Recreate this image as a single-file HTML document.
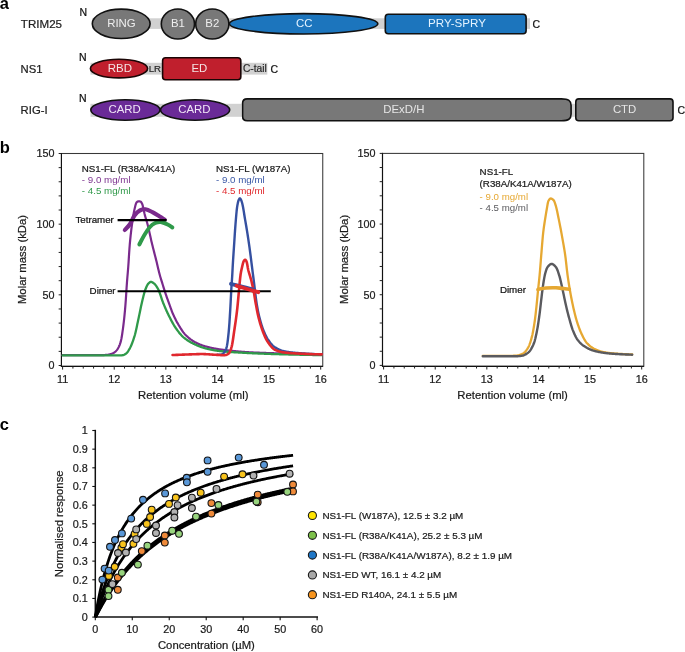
<!DOCTYPE html>
<html><head><meta charset="utf-8"><style>
html,body{margin:0;padding:0;background:#fff;width:685px;height:652px;overflow:hidden}
svg{display:block;font-family:"Liberation Sans", sans-serif}
svg{will-change:transform}
</style></head><body>
<svg width="685" height="652" viewBox="0 0 685 652">
<text x="-0.30" y="8.60" font-size="16.5" fill="#000" text-anchor="start" font-weight="bold" >a</text>
<text x="-0.30" y="153.20" font-size="16.5" fill="#000" text-anchor="start" font-weight="bold" >b</text>
<text x="-0.30" y="430.20" font-size="16.5" fill="#000" text-anchor="start" font-weight="bold" >c</text>
<text x="20.80" y="27.60" font-size="11.6" fill="#222" text-anchor="start" font-weight="normal" stroke="#222" stroke-width="0.22" >TRIM25</text>
<text x="79.60" y="16.20" font-size="10.5" fill="#111" text-anchor="start" font-weight="normal" stroke="#111" stroke-width="0.22" >N</text>
<rect x="92" y="18.3" width="438" height="10.6" fill="#d1d1d1"/>
<ellipse cx="121.2" cy="23.8" rx="28.9" ry="14.7" fill="#787878" stroke="#111" stroke-width="1.6"/>
<ellipse cx="177.9" cy="24" rx="16.6" ry="15" fill="#787878" stroke="#111" stroke-width="1.6"/>
<ellipse cx="212.3" cy="24" rx="16.6" ry="15" fill="#787878" stroke="#111" stroke-width="1.6"/>
<ellipse cx="303.6" cy="23.8" rx="74.2" ry="10.2" fill="#1c75bd" stroke="#111" stroke-width="1.6"/>
<rect x="385.3" y="14.3" width="140.8" height="19.4" rx="3" fill="#1c75bd" stroke="#111" stroke-width="1.6"/>
<text x="121.40" y="26.60" font-size="11.4" fill="#eee" text-anchor="middle" font-weight="normal" >RING</text>
<text x="177.90" y="26.60" font-size="11.4" fill="#eee" text-anchor="middle" font-weight="normal" >B1</text>
<text x="212.30" y="26.60" font-size="11.4" fill="#eee" text-anchor="middle" font-weight="normal" >B2</text>
<text x="304.30" y="26.60" font-size="11.4" fill="#e4f3ff" text-anchor="middle" font-weight="normal" >CC</text>
<text x="457.00" y="26.60" font-size="11.6" fill="#e4f3ff" text-anchor="middle" font-weight="normal" >PRY-SPRY</text>
<text x="532.60" y="28.20" font-size="10.5" fill="#111" text-anchor="start" font-weight="normal" stroke="#111" stroke-width="0.22" >C</text>
<text x="20.60" y="72.70" font-size="11.3" fill="#222" text-anchor="start" font-weight="normal" stroke="#222" stroke-width="0.22" >NS1</text>
<text x="78.90" y="60.60" font-size="10.5" fill="#111" text-anchor="start" font-weight="normal" stroke="#111" stroke-width="0.22" >N</text>
<rect x="90.5" y="62.8" width="176.8" height="11.8" fill="#d1d1d1"/>
<ellipse cx="119" cy="68.6" rx="28.6" ry="9.3" fill="#c01f2d" stroke="#1a0505" stroke-width="1.6"/>
<rect x="162.6" y="57.8" width="78.2" height="22" rx="3" fill="#c01f2d" stroke="#1a0505" stroke-width="1.6"/>
<text x="119.80" y="71.90" font-size="11.5" fill="#f4e4e4" text-anchor="middle" font-weight="normal" >RBD</text>
<text x="199.30" y="71.90" font-size="11.4" fill="#f4e4e4" text-anchor="middle" font-weight="normal" >ED</text>
<text x="148.70" y="72.20" font-size="9.6" fill="#2a2a2a" text-anchor="start" font-weight="normal" stroke="#2a2a2a" stroke-width="0.22" >LR</text>
<text x="242.90" y="72.40" font-size="10.2" fill="#2a2a2a" text-anchor="start" font-weight="normal" stroke="#2a2a2a" stroke-width="0.22" >C-tail</text>
<text x="270.40" y="72.70" font-size="10.5" fill="#111" text-anchor="start" font-weight="normal" stroke="#111" stroke-width="0.22" >C</text>
<text x="20.60" y="114.30" font-size="11.3" fill="#222" text-anchor="start" font-weight="normal" stroke="#222" stroke-width="0.22" >RIG-I</text>
<text x="79.10" y="101.50" font-size="10.5" fill="#111" text-anchor="start" font-weight="normal" stroke="#111" stroke-width="0.22" >N</text>
<rect x="90.5" y="103.8" width="151" height="13" fill="#d1d1d1"/>
<rect x="570" y="103.8" width="6" height="13" fill="#d1d1d1"/>
<ellipse cx="125.4" cy="110" rx="34.6" ry="10.2" fill="#6a2a97" stroke="#111" stroke-width="1.6"/>
<ellipse cx="195.1" cy="110" rx="34.6" ry="10.2" fill="#6a2a97" stroke="#111" stroke-width="1.6"/>
<path d="M247.2,98.9 H561.5 C568.5,98.9 571.1,100.5 571.1,105.5 V114.1 C571.1,119.1 568.5,120.7 561.5,120.7 H247.2 C243.8,120.7 242.6,119.3 242.6,116.3 V103.3 C242.6,100.3 243.8,98.9 247.2,98.9 Z" fill="#787878" stroke="#111" stroke-width="1.6"/>
<rect x="575.8" y="98.9" width="97.2" height="21.8" rx="3" fill="#787878" stroke="#111" stroke-width="1.6"/>
<text x="124.70" y="112.90" font-size="11.4" fill="#f1e6f7" text-anchor="middle" font-weight="normal" >CARD</text>
<text x="194.40" y="112.90" font-size="11.4" fill="#f1e6f7" text-anchor="middle" font-weight="normal" >CARD</text>
<text x="403.80" y="112.80" font-size="11.4" fill="#e6e6e6" text-anchor="middle" font-weight="normal" >DExD/H</text>
<text x="624.60" y="112.80" font-size="11.4" fill="#e6e6e6" text-anchor="middle" font-weight="normal" >CTD</text>
<text x="677.60" y="114.30" font-size="10.5" fill="#111" text-anchor="start" font-weight="normal" stroke="#111" stroke-width="0.22" >C</text>
<rect x="61.45" y="153.50" width="261.30" height="212.90" fill="none" stroke="#383838" stroke-width="1.05"/>
<line x1="61.45" y1="153.00" x2="61.45" y2="366.90" stroke="#111" stroke-width="1.15"/>
<line x1="60.95" y1="366.40" x2="322.75" y2="366.40" stroke="#111" stroke-width="1.15"/>
<line x1="58.65" y1="365.50" x2="61.45" y2="365.50" stroke="#222" stroke-width="1"/>
<line x1="58.65" y1="351.37" x2="61.45" y2="351.37" stroke="#222" stroke-width="1"/>
<line x1="58.65" y1="337.23" x2="61.45" y2="337.23" stroke="#222" stroke-width="1"/>
<line x1="58.65" y1="323.10" x2="61.45" y2="323.10" stroke="#222" stroke-width="1"/>
<line x1="58.65" y1="308.97" x2="61.45" y2="308.97" stroke="#222" stroke-width="1"/>
<line x1="58.65" y1="294.83" x2="61.45" y2="294.83" stroke="#222" stroke-width="1"/>
<line x1="58.65" y1="280.70" x2="61.45" y2="280.70" stroke="#222" stroke-width="1"/>
<line x1="58.65" y1="266.57" x2="61.45" y2="266.57" stroke="#222" stroke-width="1"/>
<line x1="58.65" y1="252.43" x2="61.45" y2="252.43" stroke="#222" stroke-width="1"/>
<line x1="58.65" y1="238.30" x2="61.45" y2="238.30" stroke="#222" stroke-width="1"/>
<line x1="58.65" y1="224.17" x2="61.45" y2="224.17" stroke="#222" stroke-width="1"/>
<line x1="58.65" y1="210.03" x2="61.45" y2="210.03" stroke="#222" stroke-width="1"/>
<line x1="58.65" y1="195.90" x2="61.45" y2="195.90" stroke="#222" stroke-width="1"/>
<line x1="58.65" y1="181.77" x2="61.45" y2="181.77" stroke="#222" stroke-width="1"/>
<line x1="58.65" y1="167.63" x2="61.45" y2="167.63" stroke="#222" stroke-width="1"/>
<line x1="58.65" y1="153.50" x2="61.45" y2="153.50" stroke="#222" stroke-width="1"/>
<text x="54.55" y="369.30" font-size="10.8" fill="#1a1a1a" text-anchor="end" font-weight="normal" stroke="#1a1a1a" stroke-width="0.22" >0</text>
<text x="54.55" y="298.63" font-size="10.8" fill="#1a1a1a" text-anchor="end" font-weight="normal" stroke="#1a1a1a" stroke-width="0.22" >50</text>
<text x="54.55" y="227.97" font-size="10.8" fill="#1a1a1a" text-anchor="end" font-weight="normal" stroke="#1a1a1a" stroke-width="0.22" >100</text>
<text x="54.55" y="157.30" font-size="10.8" fill="#1a1a1a" text-anchor="end" font-weight="normal" stroke="#1a1a1a" stroke-width="0.22" >150</text>
<line x1="62.60" y1="366.40" x2="62.60" y2="369.60" stroke="#222" stroke-width="1"/>
<line x1="72.92" y1="366.40" x2="72.92" y2="368.60" stroke="#222" stroke-width="1"/>
<line x1="83.25" y1="366.40" x2="83.25" y2="368.60" stroke="#222" stroke-width="1"/>
<line x1="93.57" y1="366.40" x2="93.57" y2="368.60" stroke="#222" stroke-width="1"/>
<line x1="103.90" y1="366.40" x2="103.90" y2="368.60" stroke="#222" stroke-width="1"/>
<line x1="114.22" y1="366.40" x2="114.22" y2="369.60" stroke="#222" stroke-width="1"/>
<line x1="124.54" y1="366.40" x2="124.54" y2="368.60" stroke="#222" stroke-width="1"/>
<line x1="134.87" y1="366.40" x2="134.87" y2="368.60" stroke="#222" stroke-width="1"/>
<line x1="145.19" y1="366.40" x2="145.19" y2="368.60" stroke="#222" stroke-width="1"/>
<line x1="155.52" y1="366.40" x2="155.52" y2="368.60" stroke="#222" stroke-width="1"/>
<line x1="165.84" y1="366.40" x2="165.84" y2="369.60" stroke="#222" stroke-width="1"/>
<line x1="176.16" y1="366.40" x2="176.16" y2="368.60" stroke="#222" stroke-width="1"/>
<line x1="186.49" y1="366.40" x2="186.49" y2="368.60" stroke="#222" stroke-width="1"/>
<line x1="196.81" y1="366.40" x2="196.81" y2="368.60" stroke="#222" stroke-width="1"/>
<line x1="207.14" y1="366.40" x2="207.14" y2="368.60" stroke="#222" stroke-width="1"/>
<line x1="217.46" y1="366.40" x2="217.46" y2="369.60" stroke="#222" stroke-width="1"/>
<line x1="227.78" y1="366.40" x2="227.78" y2="368.60" stroke="#222" stroke-width="1"/>
<line x1="238.11" y1="366.40" x2="238.11" y2="368.60" stroke="#222" stroke-width="1"/>
<line x1="248.43" y1="366.40" x2="248.43" y2="368.60" stroke="#222" stroke-width="1"/>
<line x1="258.76" y1="366.40" x2="258.76" y2="368.60" stroke="#222" stroke-width="1"/>
<line x1="269.08" y1="366.40" x2="269.08" y2="369.60" stroke="#222" stroke-width="1"/>
<line x1="279.40" y1="366.40" x2="279.40" y2="368.60" stroke="#222" stroke-width="1"/>
<line x1="289.73" y1="366.40" x2="289.73" y2="368.60" stroke="#222" stroke-width="1"/>
<line x1="300.05" y1="366.40" x2="300.05" y2="368.60" stroke="#222" stroke-width="1"/>
<line x1="310.38" y1="366.40" x2="310.38" y2="368.60" stroke="#222" stroke-width="1"/>
<line x1="320.70" y1="366.40" x2="320.70" y2="369.60" stroke="#222" stroke-width="1"/>
<text x="62.60" y="382.70" font-size="10.8" fill="#1a1a1a" text-anchor="middle" font-weight="normal" stroke="#1a1a1a" stroke-width="0.22" >11</text>
<text x="114.22" y="382.70" font-size="10.8" fill="#1a1a1a" text-anchor="middle" font-weight="normal" stroke="#1a1a1a" stroke-width="0.22" >12</text>
<text x="165.84" y="382.70" font-size="10.8" fill="#1a1a1a" text-anchor="middle" font-weight="normal" stroke="#1a1a1a" stroke-width="0.22" >13</text>
<text x="217.46" y="382.70" font-size="10.8" fill="#1a1a1a" text-anchor="middle" font-weight="normal" stroke="#1a1a1a" stroke-width="0.22" >14</text>
<text x="269.08" y="382.70" font-size="10.8" fill="#1a1a1a" text-anchor="middle" font-weight="normal" stroke="#1a1a1a" stroke-width="0.22" >15</text>
<text x="320.70" y="382.70" font-size="10.8" fill="#1a1a1a" text-anchor="middle" font-weight="normal" stroke="#1a1a1a" stroke-width="0.22" >16</text>
<text x="193.30" y="398.80" font-size="11.3" fill="#1a1a1a" text-anchor="middle" font-weight="normal" stroke="#1a1a1a" stroke-width="0.22" >Retention volume (ml)</text>
<text x="0" y="0" font-size="11.3" fill="#1a1a1a" stroke="#1a1a1a" stroke-width="0.22" text-anchor="middle" transform="translate(25.95,259.50) rotate(-90)">Molar mass (kDa)</text>
<rect x="382.50" y="153.40" width="261.30" height="212.90" fill="none" stroke="#383838" stroke-width="1.05"/>
<line x1="382.50" y1="152.90" x2="382.50" y2="366.80" stroke="#111" stroke-width="1.15"/>
<line x1="382.00" y1="366.30" x2="643.80" y2="366.30" stroke="#111" stroke-width="1.15"/>
<line x1="379.70" y1="365.40" x2="382.50" y2="365.40" stroke="#222" stroke-width="1"/>
<line x1="379.70" y1="351.27" x2="382.50" y2="351.27" stroke="#222" stroke-width="1"/>
<line x1="379.70" y1="337.13" x2="382.50" y2="337.13" stroke="#222" stroke-width="1"/>
<line x1="379.70" y1="323.00" x2="382.50" y2="323.00" stroke="#222" stroke-width="1"/>
<line x1="379.70" y1="308.87" x2="382.50" y2="308.87" stroke="#222" stroke-width="1"/>
<line x1="379.70" y1="294.73" x2="382.50" y2="294.73" stroke="#222" stroke-width="1"/>
<line x1="379.70" y1="280.60" x2="382.50" y2="280.60" stroke="#222" stroke-width="1"/>
<line x1="379.70" y1="266.47" x2="382.50" y2="266.47" stroke="#222" stroke-width="1"/>
<line x1="379.70" y1="252.33" x2="382.50" y2="252.33" stroke="#222" stroke-width="1"/>
<line x1="379.70" y1="238.20" x2="382.50" y2="238.20" stroke="#222" stroke-width="1"/>
<line x1="379.70" y1="224.07" x2="382.50" y2="224.07" stroke="#222" stroke-width="1"/>
<line x1="379.70" y1="209.93" x2="382.50" y2="209.93" stroke="#222" stroke-width="1"/>
<line x1="379.70" y1="195.80" x2="382.50" y2="195.80" stroke="#222" stroke-width="1"/>
<line x1="379.70" y1="181.67" x2="382.50" y2="181.67" stroke="#222" stroke-width="1"/>
<line x1="379.70" y1="167.53" x2="382.50" y2="167.53" stroke="#222" stroke-width="1"/>
<line x1="379.70" y1="153.40" x2="382.50" y2="153.40" stroke="#222" stroke-width="1"/>
<text x="375.60" y="369.20" font-size="10.8" fill="#1a1a1a" text-anchor="end" font-weight="normal" stroke="#1a1a1a" stroke-width="0.22" >0</text>
<text x="375.60" y="298.53" font-size="10.8" fill="#1a1a1a" text-anchor="end" font-weight="normal" stroke="#1a1a1a" stroke-width="0.22" >50</text>
<text x="375.60" y="227.87" font-size="10.8" fill="#1a1a1a" text-anchor="end" font-weight="normal" stroke="#1a1a1a" stroke-width="0.22" >100</text>
<text x="375.60" y="157.20" font-size="10.8" fill="#1a1a1a" text-anchor="end" font-weight="normal" stroke="#1a1a1a" stroke-width="0.22" >150</text>
<line x1="383.60" y1="366.30" x2="383.60" y2="369.50" stroke="#222" stroke-width="1"/>
<line x1="393.92" y1="366.30" x2="393.92" y2="368.50" stroke="#222" stroke-width="1"/>
<line x1="404.25" y1="366.30" x2="404.25" y2="368.50" stroke="#222" stroke-width="1"/>
<line x1="414.57" y1="366.30" x2="414.57" y2="368.50" stroke="#222" stroke-width="1"/>
<line x1="424.90" y1="366.30" x2="424.90" y2="368.50" stroke="#222" stroke-width="1"/>
<line x1="435.22" y1="366.30" x2="435.22" y2="369.50" stroke="#222" stroke-width="1"/>
<line x1="445.54" y1="366.30" x2="445.54" y2="368.50" stroke="#222" stroke-width="1"/>
<line x1="455.87" y1="366.30" x2="455.87" y2="368.50" stroke="#222" stroke-width="1"/>
<line x1="466.19" y1="366.30" x2="466.19" y2="368.50" stroke="#222" stroke-width="1"/>
<line x1="476.52" y1="366.30" x2="476.52" y2="368.50" stroke="#222" stroke-width="1"/>
<line x1="486.84" y1="366.30" x2="486.84" y2="369.50" stroke="#222" stroke-width="1"/>
<line x1="497.16" y1="366.30" x2="497.16" y2="368.50" stroke="#222" stroke-width="1"/>
<line x1="507.49" y1="366.30" x2="507.49" y2="368.50" stroke="#222" stroke-width="1"/>
<line x1="517.81" y1="366.30" x2="517.81" y2="368.50" stroke="#222" stroke-width="1"/>
<line x1="528.14" y1="366.30" x2="528.14" y2="368.50" stroke="#222" stroke-width="1"/>
<line x1="538.46" y1="366.30" x2="538.46" y2="369.50" stroke="#222" stroke-width="1"/>
<line x1="548.78" y1="366.30" x2="548.78" y2="368.50" stroke="#222" stroke-width="1"/>
<line x1="559.11" y1="366.30" x2="559.11" y2="368.50" stroke="#222" stroke-width="1"/>
<line x1="569.43" y1="366.30" x2="569.43" y2="368.50" stroke="#222" stroke-width="1"/>
<line x1="579.76" y1="366.30" x2="579.76" y2="368.50" stroke="#222" stroke-width="1"/>
<line x1="590.08" y1="366.30" x2="590.08" y2="369.50" stroke="#222" stroke-width="1"/>
<line x1="600.40" y1="366.30" x2="600.40" y2="368.50" stroke="#222" stroke-width="1"/>
<line x1="610.73" y1="366.30" x2="610.73" y2="368.50" stroke="#222" stroke-width="1"/>
<line x1="621.05" y1="366.30" x2="621.05" y2="368.50" stroke="#222" stroke-width="1"/>
<line x1="631.38" y1="366.30" x2="631.38" y2="368.50" stroke="#222" stroke-width="1"/>
<line x1="641.70" y1="366.30" x2="641.70" y2="369.50" stroke="#222" stroke-width="1"/>
<text x="383.60" y="382.70" font-size="10.8" fill="#1a1a1a" text-anchor="middle" font-weight="normal" stroke="#1a1a1a" stroke-width="0.22" >11</text>
<text x="435.22" y="382.70" font-size="10.8" fill="#1a1a1a" text-anchor="middle" font-weight="normal" stroke="#1a1a1a" stroke-width="0.22" >12</text>
<text x="486.84" y="382.70" font-size="10.8" fill="#1a1a1a" text-anchor="middle" font-weight="normal" stroke="#1a1a1a" stroke-width="0.22" >13</text>
<text x="538.46" y="382.70" font-size="10.8" fill="#1a1a1a" text-anchor="middle" font-weight="normal" stroke="#1a1a1a" stroke-width="0.22" >14</text>
<text x="590.08" y="382.70" font-size="10.8" fill="#1a1a1a" text-anchor="middle" font-weight="normal" stroke="#1a1a1a" stroke-width="0.22" >15</text>
<text x="641.70" y="382.70" font-size="10.8" fill="#1a1a1a" text-anchor="middle" font-weight="normal" stroke="#1a1a1a" stroke-width="0.22" >16</text>
<text x="512.60" y="398.80" font-size="11.3" fill="#1a1a1a" text-anchor="middle" font-weight="normal" stroke="#1a1a1a" stroke-width="0.22" >Retention volume (ml)</text>
<text x="0" y="0" font-size="11.3" fill="#1a1a1a" stroke="#1a1a1a" stroke-width="0.22" text-anchor="middle" transform="translate(348.30,259.40) rotate(-90)">Molar mass (kDa)</text>
<path d="M62.60,355.19 L63.00,355.19 L63.40,355.19 L63.80,355.19 L64.20,355.19 L64.60,355.19 L65.00,355.19 L65.40,355.19 L65.80,355.19 L66.20,355.19 L66.60,355.19 L67.00,355.19 L67.40,355.19 L67.80,355.18 L68.20,355.19 L68.60,355.18 L69.00,355.19 L69.40,355.19 L69.80,355.19 L70.20,355.19 L70.60,355.19 L71.00,355.19 L71.40,355.19 L71.80,355.18 L72.20,355.19 L72.60,355.19 L73.00,355.19 L73.40,355.18 L73.80,355.19 L74.20,355.19 L74.60,355.19 L75.00,355.18 L75.40,355.19 L75.80,355.19 L76.20,355.19 L76.60,355.19 L77.00,355.19 L77.40,355.19 L77.80,355.19 L78.20,355.19 L78.60,355.19 L79.00,355.19 L79.40,355.19 L79.80,355.19 L80.20,355.19 L80.60,355.19 L81.00,355.19 L81.40,355.18 L81.80,355.19 L82.20,355.19 L82.60,355.19 L83.00,355.19 L83.40,355.19 L83.80,355.19 L84.20,355.19 L84.60,355.19 L85.00,355.19 L85.40,355.19 L85.80,355.19 L86.20,355.19 L86.60,355.19 L87.00,355.19 L87.40,355.19 L87.80,355.19 L88.20,355.19 L88.60,355.19 L89.00,355.19 L89.40,355.18 L89.80,355.19 L90.20,355.19 L90.60,355.19 L91.00,355.19 L91.40,355.19 L91.80,355.18 L92.20,355.19 L92.60,355.19 L93.00,355.19 L93.40,355.19 L93.80,355.19 L94.20,355.19 L94.60,355.19 L95.00,355.19 L95.40,355.19 L95.80,355.19 L96.20,355.19 L96.60,355.19 L97.00,355.19 L97.40,355.19 L97.80,355.19 L98.20,355.19 L98.60,355.19 L99.00,355.19 L99.40,355.19 L99.80,355.19 L100.20,355.19 L100.60,355.18 L101.00,355.18 L101.40,355.17 L101.80,355.16 L102.20,355.15 L102.60,355.13 L103.00,355.11 L103.40,355.09 L103.80,355.07 L104.20,355.04 L104.60,355.02 L105.00,354.99 L105.40,354.95 L105.80,354.92 L106.20,354.88 L106.60,354.85 L107.00,354.81 L107.40,354.77 L107.80,354.73 L108.20,354.67 L108.60,354.60 L109.00,354.52 L109.40,354.43 L109.80,354.33 L110.20,354.22 L110.60,354.10 L111.00,353.98 L111.40,353.85 L111.80,353.71 L112.20,353.56 L112.60,353.39 L113.00,353.20 L113.40,352.98 L113.80,352.76 L114.20,352.51 L114.60,352.24 L115.00,351.93 L115.40,351.59 L115.80,351.22 L116.20,350.81 L116.60,350.37 L117.00,349.87 L117.40,349.30 L117.80,348.67 L118.20,347.97 L118.60,347.22 L119.00,346.42 L119.40,345.55 L119.80,344.58 L120.20,343.47 L120.60,342.18 L121.00,340.64 L121.40,338.72 L121.80,336.48 L122.20,333.96 L122.60,331.21 L123.00,328.29 L123.40,325.24 L123.80,321.98 L124.20,318.34 L124.60,314.35 L125.00,310.03 L125.40,305.40 L125.80,300.11 L126.20,293.93 L126.60,287.61 L127.00,281.93 L127.40,277.02 L127.80,272.37 L128.20,267.49 L128.60,261.84 L129.00,255.43 L129.40,249.23 L129.80,244.14 L130.20,239.83 L130.60,235.89 L131.00,232.28 L131.40,228.95 L131.80,225.86 L132.20,222.94 L132.60,220.13 L133.00,217.47 L133.40,214.97 L133.80,212.69 L134.20,210.64 L134.60,208.87 L135.00,207.17 L135.40,205.54 L135.80,204.11 L136.20,203.01 L136.60,202.35 L137.00,202.01 L137.40,201.72 L137.80,201.50 L138.20,201.37 L138.60,201.34 L139.00,201.36 L139.40,201.40 L139.80,201.46 L140.20,201.54 L140.60,201.64 L141.00,201.94 L141.40,202.47 L141.80,203.17 L142.20,203.97 L142.60,205.14 L143.00,206.69 L143.40,208.49 L143.80,210.41 L144.20,212.32 L144.60,214.08 L145.00,215.60 L145.40,217.00 L145.80,218.34 L146.20,219.65 L146.60,220.96 L147.00,222.31 L147.40,223.73 L147.80,225.26 L148.20,226.87 L148.60,228.57 L149.00,230.32 L149.40,232.12 L149.80,233.94 L150.20,235.77 L150.60,237.59 L151.00,239.38 L151.40,241.13 L151.80,242.81 L152.20,244.46 L152.60,246.07 L153.00,247.67 L153.40,249.25 L153.80,250.81 L154.20,252.37 L154.60,253.93 L155.00,255.48 L155.40,257.05 L155.80,258.63 L156.20,260.22 L156.60,261.84 L157.00,263.51 L157.40,265.22 L157.80,266.95 L158.20,268.67 L158.60,270.37 L159.00,272.02 L159.40,273.59 L159.80,275.07 L160.20,276.47 L160.60,277.80 L161.00,279.10 L161.40,280.37 L161.80,281.63 L162.20,282.92 L162.60,284.22 L163.00,285.53 L163.40,286.83 L163.80,288.13 L164.20,289.42 L164.60,290.68 L165.00,291.93 L165.40,293.14 L165.80,294.32 L166.20,295.48 L166.60,296.63 L167.00,297.76 L167.40,298.87 L167.80,299.98 L168.20,301.08 L168.60,302.18 L169.00,303.27 L169.40,304.38 L169.80,305.50 L170.20,306.63 L170.60,307.75 L171.00,308.86 L171.40,309.95 L171.80,311.02 L172.20,312.05 L172.60,313.04 L173.00,313.99 L173.40,314.89 L173.80,315.77 L174.20,316.63 L174.60,317.47 L175.00,318.30 L175.40,319.10 L175.80,319.89 L176.20,320.66 L176.60,321.41 L177.00,322.15 L177.40,322.87 L177.80,323.57 L178.20,324.26 L178.60,324.94 L179.00,325.60 L179.40,326.26 L179.80,326.92 L180.20,327.57 L180.60,328.21 L181.00,328.85 L181.40,329.47 L181.80,330.08 L182.20,330.68 L182.60,331.26 L183.00,331.82 L183.40,332.37 L183.80,332.89 L184.20,333.39 L184.60,333.87 L185.00,334.32 L185.40,334.75 L185.80,335.15 L186.20,335.55 L186.60,335.93 L187.00,336.31 L187.40,336.68 L187.80,337.04 L188.20,337.40 L188.60,337.74 L189.00,338.08 L189.40,338.41 L189.80,338.73 L190.20,339.04 L190.60,339.35 L191.00,339.64 L191.40,339.93 L191.80,340.21 L192.20,340.48 L192.60,340.75 L193.00,341.00 L193.40,341.25 L193.80,341.49 L194.20,341.72 L194.60,341.95 L195.00,342.17 L195.40,342.38 L195.80,342.58 L196.20,342.78 L196.60,342.98 L197.00,343.17 L197.40,343.36 L197.80,343.55 L198.20,343.73 L198.60,343.90 L199.00,344.08 L199.40,344.25 L199.80,344.41 L200.20,344.58 L200.60,344.73 L201.00,344.89 L201.40,345.04 L201.80,345.19 L202.20,345.33 L202.60,345.47 L203.00,345.61 L203.40,345.74 L203.80,345.87 L204.20,346.00 L204.60,346.12 L205.00,346.24 L205.40,346.36 L205.80,346.47 L206.20,346.58 L206.60,346.68 L207.00,346.79 L207.40,346.89 L207.80,346.99 L208.20,347.09 L208.60,347.19 L209.00,347.29 L209.40,347.38 L209.80,347.48 L210.20,347.57 L210.60,347.66 L211.00,347.74 L211.40,347.83 L211.80,347.92 L212.20,348.00 L212.60,348.08 L213.00,348.16 L213.40,348.24 L213.80,348.32 L214.20,348.40 L214.60,348.47 L215.00,348.54 L215.40,348.62 L215.80,348.69 L216.20,348.76 L216.60,348.83 L217.00,348.90 L217.40,348.96 L217.80,349.03 L218.20,349.09 L218.60,349.16 L219.00,349.22 L219.40,349.28 L219.80,349.35 L220.20,349.41 L220.60,349.47 L221.00,349.52 L221.40,349.58 L221.80,349.64 L222.20,349.69 L222.60,349.75 L223.00,349.80 L223.40,349.86 L223.80,349.91 L224.20,349.96 L224.60,350.01 L225.00,350.06 L225.40,350.11 L225.80,350.16 L226.20,350.21 L226.60,350.26 L227.00,350.30 L227.40,350.35 L227.80,350.40 L228.20,350.44 L228.60,350.49 L229.00,350.53 L229.40,350.57 L229.80,350.62 L230.20,350.66 L230.60,350.70 L231.00,350.74 L231.40,350.78 L231.80,350.82 L232.20,350.86 L232.60,350.90 L233.00,350.94 L233.40,350.98 L233.80,351.02 L234.20,351.06 L234.60,351.10 L235.00,351.14 L235.40,351.18 L235.80,351.22 L236.20,351.25 L236.60,351.29 L237.00,351.33 L237.40,351.37 L237.80,351.40 L238.20,351.44 L238.60,351.48 L239.00,351.51 L239.40,351.55 L239.80,351.58 L240.20,351.62 L240.60,351.65 L241.00,351.68 L241.40,351.72 L241.80,351.75 L242.20,351.78 L242.60,351.82 L243.00,351.85 L243.40,351.88 L243.80,351.91 L244.20,351.94 L244.60,351.97 L245.00,352.00 L245.40,352.02 L245.80,352.05 L246.20,352.08 L246.60,352.10 L247.00,352.13 L247.40,352.15 L247.80,352.18 L248.20,352.20 L248.60,352.22 L249.00,352.24 L249.40,352.27 L249.80,352.29 L250.20,352.31 L250.60,352.33 L251.00,352.35 L251.40,352.37 L251.80,352.39 L252.20,352.41 L252.60,352.43 L253.00,352.45 L253.40,352.47 L253.80,352.48 L254.20,352.50 L254.60,352.52 L255.00,352.54 L255.40,352.56 L255.80,352.57 L256.20,352.59 L256.60,352.61 L257.00,352.62 L257.40,352.64 L257.80,352.66 L258.20,352.67 L258.60,352.69 L259.00,352.71 L259.40,352.72 L259.80,352.74 L260.20,352.75 L260.60,352.77 L261.00,352.78 L261.40,352.80 L261.80,352.81 L262.20,352.83 L262.60,352.84 L263.00,352.85 L263.40,352.87 L263.80,352.88 L264.20,352.90 L264.60,352.91 L265.00,352.92 L265.40,352.94 L265.80,352.95 L266.20,352.97 L266.60,352.98 L267.00,352.99 L267.40,353.01 L267.80,353.02 L268.20,353.03 L268.60,353.05 L269.00,353.06 L269.40,353.07 L269.80,353.09 L270.20,353.10 L270.60,353.11 L271.00,353.12 L271.40,353.14 L271.80,353.15 L272.20,353.16 L272.60,353.18 L273.00,353.19 L273.40,353.20 L273.80,353.21 L274.20,353.23 L274.60,353.24 L275.00,353.25 L275.40,353.26 L275.80,353.28 L276.20,353.29 L276.60,353.30 L277.00,353.31 L277.40,353.32 L277.80,353.34 L278.20,353.35 L278.60,353.36 L279.00,353.37 L279.40,353.38 L279.80,353.39 L280.20,353.41 L280.60,353.42 L281.00,353.43 L281.40,353.44 L281.80,353.45 L282.20,353.46 L282.60,353.47 L283.00,353.48 L283.40,353.50 L283.80,353.51 L284.20,353.52 L284.60,353.53 L285.00,353.54 L285.40,353.55 L285.80,353.56 L286.20,353.57 L286.60,353.58 L287.00,353.59 L287.40,353.60 L287.80,353.61 L288.20,353.62 L288.60,353.63 L289.00,353.64 L289.40,353.65 L289.80,353.66 L290.20,353.67 L290.60,353.68 L291.00,353.69 L291.40,353.69 L291.80,353.70 L292.20,353.71 L292.60,353.72 L293.00,353.73 L293.40,353.74 L293.80,353.75 L294.20,353.76 L294.60,353.76 L295.00,353.77 L295.40,353.78 L295.80,353.79 L296.20,353.80 L296.60,353.81 L297.00,353.81 L297.40,353.82 L297.80,353.83 L298.20,353.84 L298.60,353.85 L299.00,353.86 L299.40,353.87 L299.80,353.88 L300.20,353.89 L300.60,353.89 L301.00,353.90 L301.40,353.91 L301.80,353.92 L302.20,353.93 L302.60,353.94 L303.00,353.95 L303.40,353.96 L303.80,353.97 L304.20,353.97 L304.60,353.98 L305.00,353.99 L305.40,354.00 L305.80,354.01 L306.20,354.02 L306.60,354.02 L307.00,354.03 L307.40,354.04 L307.80,354.05 L308.20,354.06 L308.60,354.06 L309.00,354.07 L309.40,354.08 L309.80,354.09 L310.20,354.09 L310.60,354.10 L311.00,354.11 L311.40,354.11 L311.80,354.12 L312.20,354.13 L312.60,354.13 L313.00,354.14 L313.40,354.14 L313.80,354.15 L314.20,354.15 L314.60,354.16 L315.00,354.16 L315.40,354.17 L315.80,354.17 L316.20,354.17 L316.60,354.18 L317.00,354.18 L317.40,354.18 L317.80,354.19 L318.20,354.19 L318.60,354.19 L319.00,354.19 L319.40,354.19 L319.80,354.19 L320.20,354.19 L320.60,354.19 L321.00,354.19 L321.40,354.19 L321.73,354.19" fill="none" stroke="#7a2a8c" stroke-width="2.2" stroke-linejoin="round" stroke-linecap="round"/>
<path d="M62.60,355.47 L63.00,355.47 L63.40,355.47 L63.80,355.47 L64.20,355.47 L64.60,355.47 L65.00,355.47 L65.40,355.47 L65.80,355.47 L66.20,355.47 L66.60,355.47 L67.00,355.47 L67.40,355.47 L67.80,355.47 L68.20,355.47 L68.60,355.47 L69.00,355.47 L69.40,355.47 L69.80,355.47 L70.20,355.47 L70.60,355.47 L71.00,355.47 L71.40,355.47 L71.80,355.47 L72.20,355.47 L72.60,355.47 L73.00,355.47 L73.40,355.47 L73.80,355.47 L74.20,355.47 L74.60,355.47 L75.00,355.47 L75.40,355.47 L75.80,355.47 L76.20,355.47 L76.60,355.47 L77.00,355.47 L77.40,355.47 L77.80,355.47 L78.20,355.47 L78.60,355.47 L79.00,355.47 L79.40,355.47 L79.80,355.47 L80.20,355.47 L80.60,355.47 L81.00,355.47 L81.40,355.47 L81.80,355.47 L82.20,355.47 L82.60,355.47 L83.00,355.47 L83.40,355.47 L83.80,355.47 L84.20,355.47 L84.60,355.47 L85.00,355.47 L85.40,355.47 L85.80,355.47 L86.20,355.47 L86.60,355.47 L87.00,355.47 L87.40,355.47 L87.80,355.47 L88.20,355.47 L88.60,355.47 L89.00,355.47 L89.40,355.47 L89.80,355.47 L90.20,355.47 L90.60,355.47 L91.00,355.47 L91.40,355.47 L91.80,355.47 L92.20,355.47 L92.60,355.47 L93.00,355.47 L93.40,355.47 L93.80,355.47 L94.20,355.47 L94.60,355.47 L95.00,355.47 L95.40,355.47 L95.80,355.47 L96.20,355.47 L96.60,355.47 L97.00,355.47 L97.40,355.47 L97.80,355.47 L98.20,355.47 L98.60,355.47 L99.00,355.47 L99.40,355.47 L99.80,355.47 L100.20,355.47 L100.60,355.47 L101.00,355.47 L101.40,355.47 L101.80,355.47 L102.20,355.47 L102.60,355.47 L103.00,355.47 L103.40,355.47 L103.80,355.47 L104.20,355.47 L104.60,355.47 L105.00,355.47 L105.40,355.47 L105.80,355.47 L106.20,355.47 L106.60,355.47 L107.00,355.47 L107.40,355.47 L107.80,355.47 L108.20,355.47 L108.60,355.47 L109.00,355.47 L109.40,355.47 L109.80,355.47 L110.20,355.47 L110.60,355.47 L111.00,355.47 L111.40,355.47 L111.80,355.47 L112.20,355.47 L112.60,355.47 L113.00,355.47 L113.40,355.47 L113.80,355.47 L114.20,355.47 L114.60,355.47 L115.00,355.47 L115.40,355.47 L115.80,355.47 L116.20,355.47 L116.60,355.47 L117.00,355.47 L117.40,355.47 L117.80,355.47 L118.20,355.47 L118.60,355.47 L119.00,355.47 L119.40,355.47 L119.80,355.46 L120.20,355.45 L120.60,355.42 L121.00,355.39 L121.40,355.35 L121.80,355.30 L122.20,355.24 L122.60,355.18 L123.00,355.12 L123.40,355.05 L123.80,354.94 L124.20,354.79 L124.60,354.58 L125.00,354.33 L125.40,354.05 L125.80,353.74 L126.20,353.41 L126.60,353.07 L127.00,352.68 L127.40,352.22 L127.80,351.69 L128.20,351.10 L128.60,350.47 L129.00,349.79 L129.40,349.09 L129.80,348.36 L130.20,347.59 L130.60,346.77 L131.00,345.90 L131.40,344.98 L131.80,344.01 L132.20,343.00 L132.60,341.93 L133.00,340.82 L133.40,339.66 L133.80,338.46 L134.20,337.21 L134.60,335.91 L135.00,334.49 L135.40,332.93 L135.80,331.25 L136.20,329.48 L136.60,327.64 L137.00,325.75 L137.40,323.84 L137.80,321.92 L138.20,320.03 L138.60,318.17 L139.00,316.31 L139.40,314.39 L139.80,312.43 L140.20,310.46 L140.60,308.50 L141.00,306.58 L141.40,304.71 L141.80,302.93 L142.20,301.25 L142.60,299.60 L143.00,297.95 L143.40,296.34 L143.80,294.78 L144.20,293.29 L144.60,291.90 L145.00,290.63 L145.40,289.49 L145.80,288.48 L146.20,287.50 L146.60,286.57 L147.00,285.72 L147.40,284.96 L147.80,284.31 L148.20,283.80 L148.60,283.40 L149.00,283.01 L149.40,282.65 L149.80,282.34 L150.20,282.10 L150.60,281.93 L151.00,281.87 L151.40,281.91 L151.80,282.03 L152.20,282.21 L152.60,282.44 L153.00,282.71 L153.40,283.00 L153.80,283.30 L154.20,283.61 L154.60,283.97 L155.00,284.39 L155.40,284.86 L155.80,285.37 L156.20,285.93 L156.60,286.53 L157.00,287.16 L157.40,287.82 L157.80,288.51 L158.20,289.24 L158.60,290.09 L159.00,291.04 L159.40,292.07 L159.80,293.16 L160.20,294.31 L160.60,295.49 L161.00,296.69 L161.40,297.90 L161.80,299.09 L162.20,300.26 L162.60,301.38 L163.00,302.45 L163.40,303.45 L163.80,304.42 L164.20,305.38 L164.60,306.33 L165.00,307.27 L165.40,308.20 L165.80,309.11 L166.20,310.02 L166.60,310.91 L167.00,311.79 L167.40,312.65 L167.80,313.50 L168.20,314.34 L168.60,315.16 L169.00,315.96 L169.40,316.76 L169.80,317.56 L170.20,318.34 L170.60,319.12 L171.00,319.90 L171.40,320.66 L171.80,321.42 L172.20,322.16 L172.60,322.89 L173.00,323.60 L173.40,324.30 L173.80,324.98 L174.20,325.64 L174.60,326.29 L175.00,326.91 L175.40,327.51 L175.80,328.09 L176.20,328.66 L176.60,329.22 L177.00,329.77 L177.40,330.32 L177.80,330.86 L178.20,331.39 L178.60,331.91 L179.00,332.43 L179.40,332.93 L179.80,333.42 L180.20,333.89 L180.60,334.36 L181.00,334.81 L181.40,335.25 L181.80,335.67 L182.20,336.08 L182.60,336.47 L183.00,336.85 L183.40,337.21 L183.80,337.55 L184.20,337.87 L184.60,338.19 L185.00,338.50 L185.40,338.81 L185.80,339.11 L186.20,339.40 L186.60,339.68 L187.00,339.96 L187.40,340.23 L187.80,340.50 L188.20,340.76 L188.60,341.01 L189.00,341.26 L189.40,341.51 L189.80,341.74 L190.20,341.98 L190.60,342.21 L191.00,342.43 L191.40,342.65 L191.80,342.87 L192.20,343.08 L192.60,343.28 L193.00,343.49 L193.40,343.69 L193.80,343.88 L194.20,344.07 L194.60,344.26 L195.00,344.45 L195.40,344.63 L195.80,344.81 L196.20,344.99 L196.60,345.17 L197.00,345.34 L197.40,345.52 L197.80,345.69 L198.20,345.85 L198.60,346.02 L199.00,346.18 L199.40,346.34 L199.80,346.50 L200.20,346.65 L200.60,346.80 L201.00,346.95 L201.40,347.10 L201.80,347.24 L202.20,347.38 L202.60,347.51 L203.00,347.64 L203.40,347.77 L203.80,347.90 L204.20,348.02 L204.60,348.13 L205.00,348.24 L205.40,348.35 L205.80,348.46 L206.20,348.56 L206.60,348.65 L207.00,348.75 L207.40,348.85 L207.80,348.94 L208.20,349.03 L208.60,349.12 L209.00,349.21 L209.40,349.30 L209.80,349.39 L210.20,349.48 L210.60,349.56 L211.00,349.64 L211.40,349.73 L211.80,349.80 L212.20,349.88 L212.60,349.96 L213.00,350.04 L213.40,350.11 L213.80,350.18 L214.20,350.25 L214.60,350.32 L215.00,350.39 L215.40,350.45 L215.80,350.52 L216.20,350.58 L216.60,350.64 L217.00,350.70 L217.40,350.75 L217.80,350.81 L218.20,350.86 L218.60,350.91 L219.00,350.96 L219.40,351.01 L219.80,351.05 L220.20,351.10 L220.60,351.14 L221.00,351.18 L221.40,351.22 L221.80,351.26 L222.20,351.30 L222.60,351.34 L223.00,351.38 L223.40,351.42 L223.80,351.46 L224.20,351.49 L224.60,351.53 L225.00,351.57 L225.40,351.60 L225.80,351.64 L226.20,351.67 L226.60,351.70 L227.00,351.74 L227.40,351.77 L227.80,351.80 L228.20,351.83 L228.60,351.86 L229.00,351.89 L229.40,351.92 L229.80,351.95 L230.20,351.98 L230.60,352.01 L231.00,352.04 L231.40,352.07 L231.80,352.09 L232.20,352.12 L232.60,352.15 L233.00,352.17 L233.40,352.20 L233.80,352.23 L234.20,352.25 L234.60,352.28 L235.00,352.30 L235.40,352.33 L235.80,352.35 L236.20,352.38 L236.60,352.40 L237.00,352.42 L237.40,352.45 L237.80,352.47 L238.20,352.49 L238.60,352.52 L239.00,352.54 L239.40,352.56 L239.80,352.59 L240.20,352.61 L240.60,352.63 L241.00,352.65 L241.40,352.68 L241.80,352.70 L242.20,352.72 L242.60,352.74 L243.00,352.76 L243.40,352.79 L243.80,352.81 L244.20,352.83 L244.60,352.85 L245.00,352.87 L245.40,352.89 L245.80,352.92 L246.20,352.94 L246.60,352.96 L247.00,352.98 L247.40,353.00 L247.80,353.02 L248.20,353.04 L248.60,353.06 L249.00,353.08 L249.40,353.10 L249.80,353.12 L250.20,353.14 L250.60,353.16 L251.00,353.18 L251.40,353.20 L251.80,353.22 L252.20,353.23 L252.60,353.25 L253.00,353.27 L253.40,353.29 L253.80,353.31 L254.20,353.33 L254.60,353.34 L255.00,353.36 L255.40,353.38 L255.80,353.40 L256.20,353.41 L256.60,353.43 L257.00,353.45 L257.40,353.47 L257.80,353.48 L258.20,353.50 L258.60,353.52 L259.00,353.53 L259.40,353.55 L259.80,353.57 L260.20,353.58 L260.60,353.60 L261.00,353.61 L261.40,353.63 L261.80,353.65 L262.20,353.66 L262.60,353.68 L263.00,353.69 L263.40,353.71 L263.80,353.72 L264.20,353.74 L264.60,353.75 L265.00,353.77 L265.40,353.78 L265.80,353.80 L266.20,353.81 L266.60,353.83 L267.00,353.84 L267.40,353.85 L267.80,353.87 L268.20,353.88 L268.60,353.89 L269.00,353.91 L269.40,353.92 L269.80,353.94 L270.20,353.95 L270.60,353.96 L271.00,353.98 L271.40,353.99 L271.80,354.00 L272.20,354.01 L272.60,354.03 L273.00,354.04 L273.40,354.05 L273.80,354.07 L274.20,354.08 L274.60,354.09 L275.00,354.10 L275.40,354.12 L275.80,354.13 L276.20,354.14 L276.60,354.15 L277.00,354.16 L277.40,354.18 L277.80,354.19 L278.20,354.20 L278.60,354.21 L279.00,354.22 L279.40,354.23 L279.80,354.25 L280.20,354.26 L280.60,354.27 L281.00,354.28 L281.40,354.29 L281.80,354.30 L282.20,354.31 L282.60,354.32 L283.00,354.34 L283.40,354.35 L283.80,354.36 L284.20,354.37 L284.60,354.38 L285.00,354.39 L285.40,354.40 L285.80,354.41 L286.20,354.42 L286.60,354.43 L287.00,354.44 L287.40,354.45 L287.80,354.46 L288.20,354.47 L288.60,354.48 L289.00,354.49 L289.40,354.50 L289.80,354.51 L290.20,354.52 L290.60,354.53 L291.00,354.53 L291.40,354.54 L291.80,354.55 L292.20,354.56 L292.60,354.57 L293.00,354.58 L293.40,354.59 L293.80,354.60 L294.20,354.60 L294.60,354.61 L295.00,354.62 L295.40,354.63 L295.80,354.64 L296.20,354.65 L296.60,354.65 L297.00,354.66 L297.40,354.67 L297.80,354.68 L298.20,354.69 L298.60,354.70 L299.00,354.71 L299.40,354.72 L299.80,354.73 L300.20,354.73 L300.60,354.74 L301.00,354.75 L301.40,354.76 L301.80,354.77 L302.20,354.78 L302.60,354.79 L303.00,354.80 L303.40,354.81 L303.80,354.81 L304.20,354.82 L304.60,354.83 L305.00,354.84 L305.40,354.85 L305.80,354.86 L306.20,354.87 L306.60,354.87 L307.00,354.88 L307.40,354.89 L307.80,354.90 L308.20,354.91 L308.60,354.91 L309.00,354.92 L309.40,354.93 L309.80,354.93 L310.20,354.94 L310.60,354.95 L311.00,354.96 L311.40,354.96 L311.80,354.97 L312.20,354.97 L312.60,354.98 L313.00,354.99 L313.40,354.99 L313.80,355.00 L314.20,355.00 L314.60,355.01 L315.00,355.01 L315.40,355.01 L315.80,355.02 L316.20,355.02 L316.60,355.03 L317.00,355.03 L317.40,355.03 L317.80,355.03 L318.20,355.04 L318.60,355.04 L319.00,355.04 L319.40,355.04 L319.80,355.04 L320.20,355.04 L320.60,355.04 L321.00,355.04 L321.40,355.04 L321.73,355.04" fill="none" stroke="#2f9a4a" stroke-width="2.3" stroke-linejoin="round" stroke-linecap="round"/>
<path d="M217.46,354.76 L217.86,354.74 L218.26,354.71 L218.66,354.69 L219.06,354.68 L219.46,354.66 L219.86,354.63 L220.26,354.61 L220.66,354.58 L221.06,354.54 L221.46,354.49 L221.86,354.42 L222.26,354.25 L222.66,353.98 L223.06,353.65 L223.46,353.24 L223.86,352.78 L224.26,352.28 L224.66,351.75 L225.06,351.16 L225.46,350.41 L225.86,349.48 L226.26,348.36 L226.66,347.03 L227.06,345.30 L227.46,342.85 L227.86,339.78 L228.26,336.22 L228.66,332.28 L229.06,327.95 L229.46,322.49 L229.86,316.18 L230.26,309.50 L230.66,302.02 L231.06,294.01 L231.46,286.97 L231.86,281.23 L232.26,275.19 L232.66,267.35 L233.06,260.53 L233.46,254.40 L233.86,248.52 L234.26,242.48 L234.66,236.24 L235.06,230.19 L235.46,224.74 L235.86,219.77 L236.26,214.99 L236.66,210.74 L237.06,207.36 L237.46,204.92 L237.86,202.87 L238.26,201.24 L238.66,200.13 L239.06,199.28 L239.46,198.63 L239.86,198.37 L240.26,198.59 L240.66,199.17 L241.06,199.92 L241.46,200.79 L241.86,202.03 L242.26,203.53 L242.66,205.20 L243.06,207.14 L243.46,209.42 L243.86,211.91 L244.26,214.48 L244.66,216.98 L245.06,219.33 L245.46,221.65 L245.86,223.97 L246.26,226.31 L246.66,228.70 L247.06,231.16 L247.46,233.68 L247.86,236.25 L248.26,238.88 L248.66,241.56 L249.06,244.31 L249.46,247.13 L249.86,250.04 L250.26,253.07 L250.66,256.19 L251.06,259.36 L251.46,262.57 L251.86,265.76 L252.26,268.91 L252.66,272.03 L253.06,275.14 L253.46,278.26 L253.86,281.39 L254.26,284.55 L254.66,287.80 L255.06,291.23 L255.46,294.68 L255.86,298.00 L256.26,301.02 L256.66,303.63 L257.06,306.04 L257.46,308.29 L257.86,310.40 L258.26,312.38 L258.66,314.23 L259.06,315.96 L259.46,317.58 L259.86,319.13 L260.26,320.63 L260.66,322.06 L261.06,323.43 L261.46,324.74 L261.86,325.99 L262.26,327.19 L262.66,328.32 L263.06,329.39 L263.46,330.41 L263.86,331.39 L264.26,332.33 L264.66,333.25 L265.06,334.13 L265.46,334.98 L265.86,335.80 L266.26,336.58 L266.66,337.32 L267.06,338.03 L267.46,338.70 L267.86,339.33 L268.26,339.92 L268.66,340.49 L269.06,341.05 L269.46,341.60 L269.86,342.13 L270.26,342.66 L270.66,343.16 L271.06,343.65 L271.46,344.12 L271.86,344.58 L272.26,345.01 L272.66,345.42 L273.06,345.81 L273.46,346.18 L273.86,346.52 L274.26,346.84 L274.66,347.13 L275.06,347.40 L275.46,347.64 L275.86,347.88 L276.26,348.11 L276.66,348.34 L277.06,348.56 L277.46,348.77 L277.86,348.98 L278.26,349.18 L278.66,349.37 L279.06,349.56 L279.46,349.74 L279.86,349.91 L280.26,350.07 L280.66,350.23 L281.06,350.38 L281.46,350.52 L281.86,350.66 L282.26,350.78 L282.66,350.90 L283.06,351.01 L283.46,351.12 L283.86,351.21 L284.26,351.30 L284.66,351.38 L285.06,351.46 L285.46,351.53 L285.86,351.60 L286.26,351.67 L286.66,351.74 L287.06,351.81 L287.46,351.87 L287.86,351.93 L288.26,352.00 L288.66,352.05 L289.06,352.11 L289.46,352.17 L289.86,352.22 L290.26,352.28 L290.66,352.33 L291.06,352.38 L291.46,352.42 L291.86,352.47 L292.26,352.52 L292.66,352.56 L293.06,352.61 L293.46,352.65 L293.86,352.69 L294.26,352.73 L294.66,352.77 L295.06,352.80 L295.46,352.84 L295.86,352.88 L296.26,352.91 L296.66,352.95 L297.06,352.98 L297.46,353.01 L297.86,353.04 L298.26,353.07 L298.66,353.10 L299.06,353.13 L299.46,353.16 L299.86,353.19 L300.26,353.22 L300.66,353.25 L301.06,353.27 L301.46,353.30 L301.86,353.33 L302.26,353.36 L302.66,353.39 L303.06,353.41 L303.46,353.44 L303.86,353.47 L304.26,353.50 L304.66,353.52 L305.06,353.55 L305.46,353.58 L305.86,353.60 L306.26,353.63 L306.66,353.66 L307.06,353.68 L307.46,353.71 L307.86,353.73 L308.26,353.76 L308.66,353.78 L309.06,353.80 L309.46,353.83 L309.86,353.85 L310.26,353.87 L310.66,353.89 L311.06,353.92 L311.46,353.94 L311.86,353.96 L312.26,353.98 L312.66,353.99 L313.06,354.01 L313.46,354.03 L313.86,354.05 L314.26,354.06 L314.66,354.08 L315.06,354.09 L315.46,354.10 L315.86,354.12 L316.26,354.13 L316.66,354.14 L317.06,354.15 L317.46,354.16 L317.86,354.17 L318.26,354.17 L318.66,354.18 L319.06,354.18 L319.46,354.19 L319.86,354.19 L320.26,354.19 L320.66,354.19 L321.06,354.19 L321.46,354.19 L321.73,354.19" fill="none" stroke="#3550a0" stroke-width="2.4" stroke-linejoin="round" stroke-linecap="round"/>
<path d="M172.55,355.04 L172.95,355.03 L173.35,355.01 L173.75,355.00 L174.15,354.98 L174.55,354.97 L174.95,354.95 L175.35,354.94 L175.75,354.92 L176.15,354.91 L176.55,354.89 L176.95,354.88 L177.35,354.86 L177.75,354.84 L178.15,354.83 L178.55,354.81 L178.95,354.80 L179.35,354.78 L179.75,354.77 L180.15,354.75 L180.55,354.74 L180.95,354.72 L181.35,354.70 L181.75,354.69 L182.15,354.67 L182.55,354.66 L182.95,354.64 L183.35,354.63 L183.75,354.61 L184.15,354.60 L184.55,354.58 L184.95,354.57 L185.35,354.55 L185.75,354.54 L186.15,354.52 L186.55,354.51 L186.95,354.49 L187.35,354.48 L187.75,354.47 L188.15,354.45 L188.55,354.44 L188.95,354.42 L189.35,354.41 L189.75,354.40 L190.15,354.38 L190.55,354.37 L190.95,354.36 L191.35,354.35 L191.75,354.33 L192.15,354.32 L192.55,354.31 L192.95,354.29 L193.35,354.28 L193.75,354.26 L194.15,354.25 L194.55,354.23 L194.95,354.22 L195.35,354.21 L195.75,354.19 L196.15,354.18 L196.55,354.16 L196.95,354.15 L197.35,354.14 L197.75,354.12 L198.15,354.11 L198.55,354.10 L198.95,354.09 L199.35,354.08 L199.75,354.07 L200.15,354.07 L200.55,354.06 L200.95,354.06 L201.35,354.05 L201.75,354.05 L202.15,354.05 L202.55,354.06 L202.95,354.06 L203.35,354.07 L203.75,354.08 L204.15,354.09 L204.55,354.10 L204.95,354.12 L205.35,354.14 L205.75,354.16 L206.15,354.18 L206.55,354.20 L206.95,354.22 L207.35,354.25 L207.75,354.27 L208.15,354.30 L208.55,354.32 L208.95,354.35 L209.35,354.38 L209.75,354.41 L210.15,354.44 L210.55,354.47 L210.95,354.49 L211.35,354.52 L211.75,354.55 L212.15,354.58 L212.55,354.61 L212.95,354.63 L213.35,354.66 L213.75,354.68 L214.15,354.71 L214.55,354.73 L214.95,354.75 L215.35,354.77 L215.75,354.80 L216.15,354.82 L216.55,354.85 L216.95,354.87 L217.35,354.90 L217.75,354.92 L218.15,354.95 L218.55,354.98 L218.95,355.00 L219.35,355.03 L219.75,355.05 L220.15,355.07 L220.55,355.10 L220.95,355.11 L221.35,355.13 L221.75,355.15 L222.15,355.16 L222.55,355.17 L222.95,355.18 L223.35,355.18 L223.75,355.18 L224.15,355.17 L224.55,355.14 L224.95,355.09 L225.35,355.03 L225.75,354.96 L226.15,354.89 L226.55,354.78 L226.95,354.63 L227.35,354.44 L227.75,354.21 L228.15,353.93 L228.55,353.62 L228.95,353.27 L229.35,352.76 L229.75,352.05 L230.15,351.18 L230.55,350.15 L230.95,348.99 L231.35,347.72 L231.75,346.35 L232.15,344.57 L232.55,342.35 L232.95,339.81 L233.35,337.06 L233.75,334.22 L234.15,331.42 L234.55,328.73 L234.95,326.06 L235.35,323.36 L235.75,320.58 L236.15,317.69 L236.55,314.65 L236.95,311.42 L237.35,307.92 L237.75,303.93 L238.15,299.61 L238.55,295.15 L238.95,290.79 L239.35,286.59 L239.75,282.21 L240.15,278.10 L240.55,274.82 L240.95,272.34 L241.35,270.25 L241.75,268.42 L242.15,266.70 L242.55,264.99 L242.95,263.39 L243.35,262.05 L243.75,261.12 L244.15,260.52 L244.55,260.02 L244.95,259.70 L245.35,259.69 L245.75,260.07 L246.15,260.75 L246.55,261.60 L246.95,262.89 L247.35,265.00 L247.75,267.38 L248.15,269.46 L248.55,271.05 L248.95,272.49 L249.35,273.83 L249.75,275.12 L250.15,276.41 L250.55,277.76 L250.95,279.22 L251.35,280.79 L251.75,282.42 L252.15,284.10 L252.55,285.84 L252.95,287.67 L253.35,289.58 L253.75,291.60 L254.15,293.85 L254.55,296.27 L254.95,298.74 L255.35,301.18 L255.75,303.46 L256.15,305.64 L256.55,307.80 L256.95,309.91 L257.35,311.96 L257.75,313.91 L258.15,315.73 L258.55,317.39 L258.95,318.96 L259.35,320.48 L259.75,321.94 L260.15,323.34 L260.55,324.68 L260.95,325.97 L261.35,327.21 L261.75,328.40 L262.15,329.55 L262.55,330.64 L262.95,331.70 L263.35,332.73 L263.75,333.74 L264.15,334.73 L264.55,335.69 L264.95,336.61 L265.35,337.50 L265.75,338.35 L266.15,339.15 L266.55,339.91 L266.95,340.61 L267.35,341.26 L267.75,341.86 L268.15,342.45 L268.55,343.03 L268.95,343.60 L269.35,344.16 L269.75,344.71 L270.15,345.23 L270.55,345.74 L270.95,346.24 L271.35,346.71 L271.75,347.15 L272.15,347.58 L272.55,347.98 L272.95,348.35 L273.35,348.69 L273.75,349.01 L274.15,349.29 L274.55,349.54 L274.95,349.75 L275.35,349.94 L275.75,350.11 L276.15,350.28 L276.55,350.45 L276.95,350.60 L277.35,350.75 L277.75,350.90 L278.15,351.04 L278.55,351.17 L278.95,351.30 L279.35,351.42 L279.75,351.53 L280.15,351.64 L280.55,351.75 L280.95,351.85 L281.35,351.94 L281.75,352.03 L282.15,352.11 L282.55,352.19 L282.95,352.26 L283.35,352.32 L283.75,352.39 L284.15,352.44 L284.55,352.49 L284.95,352.54 L285.35,352.59 L285.75,352.63 L286.15,352.68 L286.55,352.72 L286.95,352.76 L287.35,352.80 L287.75,352.84 L288.15,352.88 L288.55,352.91 L288.95,352.95 L289.35,352.98 L289.75,353.02 L290.15,353.05 L290.55,353.08 L290.95,353.11 L291.35,353.14 L291.75,353.17 L292.15,353.20 L292.55,353.22 L292.95,353.25 L293.35,353.27 L293.75,353.30 L294.15,353.32 L294.55,353.35 L294.95,353.37 L295.35,353.39 L295.75,353.41 L296.15,353.43 L296.55,353.46 L296.95,353.48 L297.35,353.50 L297.75,353.52 L298.15,353.54 L298.55,353.56 L298.95,353.58 L299.35,353.59 L299.75,353.61 L300.15,353.63 L300.55,353.65 L300.95,353.67 L301.35,353.69 L301.75,353.71 L302.15,353.73 L302.55,353.75 L302.95,353.77 L303.35,353.79 L303.75,353.81 L304.15,353.83 L304.55,353.84 L304.95,353.86 L305.35,353.88 L305.75,353.90 L306.15,353.92 L306.55,353.94 L306.95,353.96 L307.35,353.98 L307.75,353.99 L308.15,354.01 L308.55,354.03 L308.95,354.05 L309.35,354.06 L309.75,354.08 L310.15,354.10 L310.55,354.11 L310.95,354.13 L311.35,354.14 L311.75,354.16 L312.15,354.17 L312.55,354.18 L312.95,354.20 L313.35,354.21 L313.75,354.22 L314.15,354.23 L314.55,354.25 L314.95,354.26 L315.35,354.27 L315.75,354.28 L316.15,354.28 L316.55,354.29 L316.95,354.30 L317.35,354.31 L317.75,354.31 L318.15,354.32 L318.55,354.32 L318.95,354.33 L319.35,354.33 L319.75,354.33 L320.15,354.33 L320.55,354.34 L320.95,354.34 L321.35,354.34 L321.73,354.34" fill="none" stroke="#e0282e" stroke-width="2.6" stroke-linejoin="round" stroke-linecap="round"/>
<path d="M124.80,230.00 C125.62,229.08 128.08,226.92 129.70,224.50 C131.32,222.08 132.78,217.85 134.50,215.50 C136.22,213.15 138.17,211.43 140.00,210.40 C141.83,209.37 143.43,209.02 145.50,209.30 C147.57,209.58 150.10,210.95 152.40,212.10 C154.70,213.25 157.23,214.93 159.30,216.20 C161.37,217.47 163.88,219.12 164.80,219.70" fill="none" stroke="#7a2a8c" stroke-width="4.1" stroke-linecap="round"/>
<path d="M139.30,244.50 C140.10,243.00 142.37,238.38 144.10,235.50 C145.83,232.62 147.85,229.27 149.70,227.20 C151.55,225.13 153.37,223.97 155.20,223.10 C157.03,222.23 158.63,221.77 160.70,222.00 C162.77,222.23 165.65,223.58 167.60,224.50 C169.55,225.42 171.60,227.00 172.40,227.50" fill="none" stroke="#2f9a4a" stroke-width="3.9" stroke-linecap="round"/>
<line x1="117.6" y1="220.1" x2="166.6" y2="220.1" stroke="#000" stroke-width="2.1"/>
<line x1="117.6" y1="291.3" x2="270.8" y2="291.3" stroke="#000" stroke-width="2.1"/>
<path d="M230.90,284.00 C232.08,284.27 235.48,285.00 238.00,285.60 C240.52,286.20 243.42,286.93 246.00,287.60 C248.58,288.27 252.25,289.27 253.50,289.60" fill="none" stroke="#3550a0" stroke-width="3.7" stroke-linecap="round"/>
<path d="M236.50,285.80 C237.58,286.13 240.67,287.10 243.00,287.80 C245.33,288.50 247.95,289.27 250.50,290.00 C253.05,290.73 257.00,291.83 258.30,292.20" fill="none" stroke="#e0282e" stroke-width="3.8" stroke-linecap="round"/>
<text x="75.40" y="223.20" font-size="9.75" fill="#111" text-anchor="start" font-weight="normal" stroke="#111" stroke-width="0.22" >Tetramer</text>
<text x="89.60" y="294.00" font-size="9.75" fill="#111" text-anchor="start" font-weight="normal" stroke="#111" stroke-width="0.22" >Dimer</text>
<text x="81.80" y="171.80" font-size="9.75" fill="#1a1a1a" text-anchor="start" font-weight="normal" stroke="#1a1a1a" stroke-width="0.22" >NS1-FL (R38A/K41A)</text>
<text x="81.80" y="182.70" font-size="9.75" fill="#7e3590" text-anchor="start" font-weight="normal" >- 9.0 mg/ml</text>
<text x="81.80" y="193.70" font-size="9.75" fill="#30994a" text-anchor="start" font-weight="normal" >- 4.5 mg/ml</text>
<text x="216.00" y="171.80" font-size="9.75" fill="#1a1a1a" text-anchor="start" font-weight="normal" stroke="#1a1a1a" stroke-width="0.22" >NS1-FL (W187A)</text>
<text x="216.00" y="182.70" font-size="9.75" fill="#3a58a6" text-anchor="start" font-weight="normal" >- 9.0 mg/ml</text>
<text x="216.00" y="193.70" font-size="9.75" fill="#e02a2e" text-anchor="start" font-weight="normal" >- 4.5 mg/ml</text>
<path d="M482.80,355.90 L483.20,355.90 L483.60,355.90 L484.00,355.90 L484.40,355.90 L484.80,355.90 L485.20,355.90 L485.60,355.90 L486.00,355.90 L486.40,355.90 L486.80,355.90 L487.20,355.90 L487.60,355.90 L488.00,355.90 L488.40,355.90 L488.80,355.90 L489.20,355.90 L489.60,355.90 L490.00,355.90 L490.40,355.90 L490.80,355.90 L491.20,355.90 L491.60,355.90 L492.00,355.90 L492.40,355.90 L492.80,355.90 L493.20,355.90 L493.60,355.90 L494.00,355.90 L494.40,355.90 L494.80,355.90 L495.20,355.90 L495.60,355.90 L496.00,355.90 L496.40,355.90 L496.80,355.90 L497.20,355.90 L497.60,355.90 L498.00,355.90 L498.40,355.90 L498.80,355.90 L499.20,355.90 L499.60,355.90 L500.00,355.90 L500.40,355.90 L500.80,355.90 L501.20,355.90 L501.60,355.90 L502.00,355.90 L502.40,355.90 L502.80,355.90 L503.20,355.90 L503.60,355.90 L504.00,355.90 L504.40,355.90 L504.80,355.90 L505.20,355.90 L505.60,355.90 L506.00,355.90 L506.40,355.89 L506.80,355.89 L507.20,355.89 L507.60,355.88 L508.00,355.88 L508.40,355.87 L508.80,355.86 L509.20,355.86 L509.60,355.85 L510.00,355.84 L510.40,355.83 L510.80,355.83 L511.20,355.82 L511.60,355.81 L512.00,355.80 L512.40,355.79 L512.80,355.78 L513.20,355.77 L513.60,355.75 L514.00,355.74 L514.40,355.72 L514.80,355.70 L515.20,355.68 L515.60,355.66 L516.00,355.64 L516.40,355.61 L516.80,355.57 L517.20,355.53 L517.60,355.46 L518.00,355.39 L518.40,355.30 L518.80,355.20 L519.20,355.09 L519.60,354.97 L520.00,354.84 L520.40,354.69 L520.80,354.54 L521.20,354.38 L521.60,354.21 L522.00,354.03 L522.40,353.84 L522.80,353.65 L523.20,353.42 L523.60,353.15 L524.00,352.84 L524.40,352.49 L524.80,352.09 L525.20,351.67 L525.60,351.20 L526.00,350.71 L526.40,350.18 L526.80,349.62 L527.20,349.03 L527.60,348.41 L528.00,347.77 L528.40,347.07 L528.80,346.26 L529.20,345.35 L529.60,344.33 L530.00,343.22 L530.40,342.02 L530.80,340.73 L531.20,339.36 L531.60,337.92 L532.00,336.41 L532.40,334.71 L532.80,332.80 L533.20,330.70 L533.60,328.41 L534.00,325.98 L534.40,323.41 L534.80,320.71 L535.20,317.68 L535.60,314.32 L536.00,310.74 L536.40,307.03 L536.80,303.18 L537.20,299.04 L537.60,294.80 L538.00,290.70 L538.40,286.89 L538.80,283.21 L539.20,279.46 L539.60,275.40 L540.00,270.84 L540.40,265.88 L540.80,260.75 L541.20,255.66 L541.60,250.81 L542.00,245.91 L542.40,241.05 L542.80,236.51 L543.20,232.60 L543.60,229.33 L544.00,226.43 L544.40,223.76 L544.80,221.19 L545.20,218.61 L545.60,216.08 L546.00,213.63 L546.40,211.29 L546.80,209.04 L547.20,206.62 L547.60,204.24 L548.00,202.24 L548.40,201.00 L548.80,200.29 L549.20,199.67 L549.60,199.16 L550.00,198.78 L550.40,198.55 L550.80,198.50 L551.20,198.56 L551.60,198.70 L552.00,198.90 L552.40,199.16 L552.80,199.47 L553.20,199.82 L553.60,200.20 L554.00,200.75 L554.40,201.58 L554.80,202.63 L555.20,203.83 L555.60,205.12 L556.00,206.44 L556.40,207.96 L556.80,209.70 L557.20,211.60 L557.60,213.57 L558.00,215.54 L558.40,217.45 L558.80,219.39 L559.20,221.36 L559.60,223.37 L560.00,225.41 L560.40,227.48 L560.80,229.58 L561.20,231.71 L561.60,233.88 L562.00,236.09 L562.40,238.33 L562.80,240.60 L563.20,242.87 L563.60,245.13 L564.00,247.43 L564.40,249.83 L564.80,252.37 L565.20,255.11 L565.60,258.22 L566.00,261.64 L566.40,265.21 L566.80,268.78 L567.20,272.19 L567.60,275.30 L568.00,278.14 L568.40,280.86 L568.80,283.46 L569.20,285.97 L569.60,288.38 L570.00,290.70 L570.40,292.95 L570.80,295.14 L571.20,297.26 L571.60,299.32 L572.00,301.31 L572.40,303.24 L572.80,305.10 L573.20,306.89 L573.60,308.65 L574.00,310.38 L574.40,312.07 L574.80,313.72 L575.20,315.31 L575.60,316.85 L576.00,318.33 L576.40,319.74 L576.80,321.08 L577.20,322.35 L577.60,323.59 L578.00,324.79 L578.40,325.96 L578.80,327.09 L579.20,328.18 L579.60,329.23 L580.00,330.24 L580.40,331.22 L580.80,332.16 L581.20,333.05 L581.60,333.91 L582.00,334.75 L582.40,335.58 L582.80,336.39 L583.20,337.18 L583.60,337.95 L584.00,338.69 L584.40,339.41 L584.80,340.09 L585.20,340.74 L585.60,341.34 L586.00,341.91 L586.40,342.43 L586.80,342.90 L587.20,343.34 L587.60,343.76 L588.00,344.17 L588.40,344.57 L588.80,344.96 L589.20,345.33 L589.60,345.69 L590.00,346.03 L590.40,346.36 L590.80,346.68 L591.20,346.98 L591.60,347.27 L592.00,347.55 L592.40,347.82 L592.80,348.07 L593.20,348.31 L593.60,348.54 L594.00,348.75 L594.40,348.95 L594.80,349.14 L595.20,349.33 L595.60,349.51 L596.00,349.68 L596.40,349.85 L596.80,350.02 L597.20,350.18 L597.60,350.33 L598.00,350.48 L598.40,350.63 L598.80,350.77 L599.20,350.90 L599.60,351.03 L600.00,351.16 L600.40,351.28 L600.80,351.40 L601.20,351.51 L601.60,351.61 L602.00,351.72 L602.40,351.81 L602.80,351.91 L603.20,352.00 L603.60,352.08 L604.00,352.16 L604.40,352.24 L604.80,352.31 L605.20,352.38 L605.60,352.45 L606.00,352.52 L606.40,352.59 L606.80,352.65 L607.20,352.71 L607.60,352.77 L608.00,352.83 L608.40,352.89 L608.80,352.94 L609.20,352.99 L609.60,353.04 L610.00,353.09 L610.40,353.13 L610.80,353.18 L611.20,353.22 L611.60,353.26 L612.00,353.30 L612.40,353.34 L612.80,353.37 L613.20,353.41 L613.60,353.44 L614.00,353.48 L614.40,353.51 L614.80,353.54 L615.20,353.57 L615.60,353.60 L616.00,353.63 L616.40,353.66 L616.80,353.68 L617.20,353.71 L617.60,353.74 L618.00,353.76 L618.40,353.79 L618.80,353.81 L619.20,353.84 L619.60,353.86 L620.00,353.88 L620.40,353.91 L620.80,353.93 L621.20,353.95 L621.60,353.98 L622.00,354.00 L622.40,354.02 L622.80,354.05 L623.20,354.07 L623.60,354.09 L624.00,354.11 L624.40,354.13 L624.80,354.15 L625.20,354.17 L625.60,354.19 L626.00,354.21 L626.40,354.23 L626.80,354.25 L627.20,354.27 L627.60,354.28 L628.00,354.30 L628.40,354.32 L628.80,354.34 L629.20,354.36 L629.60,354.38 L630.00,354.40 L630.40,354.41 L630.80,354.43 L631.20,354.45 L631.60,354.47 L632.00,354.49 L632.20,354.50" fill="none" stroke="#e6a832" stroke-width="2.3" stroke-linejoin="round" stroke-linecap="round"/>
<path d="M482.80,356.20 L483.20,356.20 L483.60,356.20 L484.00,356.20 L484.40,356.20 L484.80,356.20 L485.20,356.20 L485.60,356.20 L486.00,356.20 L486.40,356.20 L486.80,356.20 L487.20,356.20 L487.60,356.20 L488.00,356.20 L488.40,356.20 L488.80,356.20 L489.20,356.20 L489.60,356.20 L490.00,356.20 L490.40,356.20 L490.80,356.20 L491.20,356.20 L491.60,356.20 L492.00,356.20 L492.40,356.20 L492.80,356.20 L493.20,356.20 L493.60,356.20 L494.00,356.20 L494.40,356.20 L494.80,356.20 L495.20,356.20 L495.60,356.20 L496.00,356.20 L496.40,356.20 L496.80,356.20 L497.20,356.20 L497.60,356.20 L498.00,356.20 L498.40,356.20 L498.80,356.20 L499.20,356.20 L499.60,356.20 L500.00,356.20 L500.40,356.20 L500.80,356.20 L501.20,356.20 L501.60,356.20 L502.00,356.20 L502.40,356.20 L502.80,356.20 L503.20,356.20 L503.60,356.20 L504.00,356.20 L504.40,356.20 L504.80,356.20 L505.20,356.20 L505.60,356.20 L506.00,356.20 L506.40,356.21 L506.80,356.21 L507.20,356.21 L507.60,356.22 L508.00,356.22 L508.40,356.23 L508.80,356.23 L509.20,356.24 L509.60,356.24 L510.00,356.25 L510.40,356.26 L510.80,356.26 L511.20,356.27 L511.60,356.27 L512.00,356.28 L512.40,356.28 L512.80,356.29 L513.20,356.29 L513.60,356.29 L514.00,356.30 L514.40,356.30 L514.80,356.30 L515.20,356.30 L515.60,356.30 L516.00,356.29 L516.40,356.27 L516.80,356.26 L517.20,356.24 L517.60,356.21 L518.00,356.18 L518.40,356.15 L518.80,356.11 L519.20,356.07 L519.60,356.03 L520.00,355.99 L520.40,355.94 L520.80,355.88 L521.20,355.83 L521.60,355.77 L522.00,355.71 L522.40,355.65 L522.80,355.58 L523.20,355.49 L523.60,355.36 L524.00,355.20 L524.40,355.01 L524.80,354.81 L525.20,354.58 L525.60,354.35 L526.00,354.11 L526.40,353.86 L526.80,353.61 L527.20,353.34 L527.60,353.05 L528.00,352.74 L528.40,352.40 L528.80,352.03 L529.20,351.63 L529.60,351.20 L530.00,350.71 L530.40,350.15 L530.80,349.52 L531.20,348.84 L531.60,348.12 L532.00,347.38 L532.40,346.62 L532.80,345.84 L533.20,345.00 L533.60,344.08 L534.00,343.06 L534.40,341.90 L534.80,340.56 L535.20,339.05 L535.60,337.39 L536.00,335.60 L536.40,333.70 L536.80,331.70 L537.20,329.63 L537.60,327.44 L538.00,325.03 L538.40,322.43 L538.80,319.66 L539.20,316.78 L539.60,313.80 L540.00,310.60 L540.40,307.12 L540.80,303.55 L541.20,300.06 L541.60,296.77 L542.00,293.47 L542.40,290.23 L542.80,287.14 L543.20,284.30 L543.60,281.76 L544.00,279.36 L544.40,277.13 L544.80,275.15 L545.20,273.50 L545.60,272.07 L546.00,270.73 L546.40,269.53 L546.80,268.49 L547.20,267.66 L547.60,267.07 L548.00,266.57 L548.40,266.09 L548.80,265.65 L549.20,265.24 L549.60,264.87 L550.00,264.56 L550.40,264.29 L550.80,264.09 L551.20,263.96 L551.60,263.90 L552.00,263.92 L552.40,264.02 L552.80,264.19 L553.20,264.42 L553.60,264.71 L554.00,265.05 L554.40,265.44 L554.80,265.86 L555.20,266.31 L555.60,266.78 L556.00,267.28 L556.40,267.83 L556.80,268.56 L557.20,269.45 L557.60,270.47 L558.00,271.60 L558.40,272.79 L558.80,274.04 L559.20,275.30 L559.60,276.66 L560.00,278.18 L560.40,279.83 L560.80,281.54 L561.20,283.29 L561.60,285.04 L562.00,286.83 L562.40,288.68 L562.80,290.57 L563.20,292.47 L563.60,294.36 L564.00,296.24 L564.40,298.13 L564.80,300.04 L565.20,301.93 L565.60,303.78 L566.00,305.57 L566.40,307.28 L566.80,308.96 L567.20,310.61 L567.60,312.23 L568.00,313.81 L568.40,315.35 L568.80,316.85 L569.20,318.30 L569.60,319.73 L570.00,321.16 L570.40,322.57 L570.80,323.95 L571.20,325.30 L571.60,326.60 L572.00,327.83 L572.40,329.00 L572.80,330.09 L573.20,331.10 L573.60,332.07 L574.00,333.01 L574.40,333.93 L574.80,334.81 L575.20,335.66 L575.60,336.46 L576.00,337.23 L576.40,337.95 L576.80,338.62 L577.20,339.24 L577.60,339.80 L578.00,340.33 L578.40,340.83 L578.80,341.32 L579.20,341.78 L579.60,342.23 L580.00,342.66 L580.40,343.07 L580.80,343.46 L581.20,343.84 L581.60,344.20 L582.00,344.54 L582.40,344.87 L582.80,345.18 L583.20,345.48 L583.60,345.76 L584.00,346.03 L584.40,346.30 L584.80,346.56 L585.20,346.81 L585.60,347.06 L586.00,347.30 L586.40,347.54 L586.80,347.77 L587.20,348.00 L587.60,348.21 L588.00,348.42 L588.40,348.63 L588.80,348.83 L589.20,349.02 L589.60,349.21 L590.00,349.38 L590.40,349.56 L590.80,349.72 L591.20,349.88 L591.60,350.03 L592.00,350.17 L592.40,350.31 L592.80,350.44 L593.20,350.56 L593.60,350.68 L594.00,350.79 L594.40,350.91 L594.80,351.02 L595.20,351.12 L595.60,351.23 L596.00,351.33 L596.40,351.42 L596.80,351.52 L597.20,351.61 L597.60,351.70 L598.00,351.79 L598.40,351.88 L598.80,351.96 L599.20,352.04 L599.60,352.12 L600.00,352.19 L600.40,352.27 L600.80,352.34 L601.20,352.41 L601.60,352.48 L602.00,352.54 L602.40,352.61 L602.80,352.67 L603.20,352.73 L603.60,352.79 L604.00,352.84 L604.40,352.90 L604.80,352.95 L605.20,353.00 L605.60,353.05 L606.00,353.10 L606.40,353.15 L606.80,353.20 L607.20,353.25 L607.60,353.29 L608.00,353.33 L608.40,353.37 L608.80,353.42 L609.20,353.45 L609.60,353.49 L610.00,353.53 L610.40,353.57 L610.80,353.60 L611.20,353.64 L611.60,353.67 L612.00,353.70 L612.40,353.73 L612.80,353.76 L613.20,353.79 L613.60,353.82 L614.00,353.85 L614.40,353.87 L614.80,353.90 L615.20,353.93 L615.60,353.95 L616.00,353.98 L616.40,354.00 L616.80,354.03 L617.20,354.05 L617.60,354.07 L618.00,354.10 L618.40,354.12 L618.80,354.14 L619.20,354.16 L619.60,354.18 L620.00,354.20 L620.40,354.22 L620.80,354.24 L621.20,354.26 L621.60,354.28 L622.00,354.30 L622.40,354.32 L622.80,354.34 L623.20,354.35 L623.60,354.37 L624.00,354.39 L624.40,354.41 L624.80,354.42 L625.20,354.44 L625.60,354.45 L626.00,354.47 L626.40,354.48 L626.80,354.50 L627.20,354.51 L627.60,354.53 L628.00,354.54 L628.40,354.56 L628.80,354.57 L629.20,354.59 L629.60,354.60 L630.00,354.62 L630.40,354.63 L630.80,354.65 L631.20,354.66 L631.60,354.68 L632.00,354.69 L632.20,354.70" fill="none" stroke="#5a5a5e" stroke-width="2.4" stroke-linejoin="round" stroke-linecap="round"/>
<path d="M537.90,289.40 C539.25,289.17 542.98,288.27 546.00,288.00 C549.02,287.73 553.33,287.73 556.00,287.80 C558.67,287.87 559.77,288.17 562.00,288.40 C564.23,288.63 568.17,289.07 569.40,289.20" fill="none" stroke="#e6a832" stroke-width="3.6" stroke-linecap="round"/>
<text x="499.90" y="292.60" font-size="9.75" fill="#111" text-anchor="start" font-weight="normal" stroke="#111" stroke-width="0.22" >Dimer</text>
<text x="479.60" y="175.20" font-size="9.75" fill="#1a1a1a" text-anchor="start" font-weight="normal" stroke="#1a1a1a" stroke-width="0.22" >NS1-FL</text>
<text x="479.60" y="187.40" font-size="9.75" fill="#1a1a1a" text-anchor="start" font-weight="normal" stroke="#1a1a1a" stroke-width="0.22" >(R38A/K41A/W187A)</text>
<text x="479.60" y="199.80" font-size="9.7" fill="#e6a832" text-anchor="start" font-weight="normal" >- 9.0 mg/ml</text>
<text x="479.60" y="210.80" font-size="9.7" fill="#5a5a5e" text-anchor="start" font-weight="normal" >- 4.5 mg/ml</text>
<line x1="95.30" y1="429.8" x2="95.30" y2="617.70" stroke="#111" stroke-width="1.5"/>
<line x1="94.70" y1="617.10" x2="318" y2="617.10" stroke="#111" stroke-width="1.5"/>
<line x1="92.30" y1="617.10" x2="95.30" y2="617.10" stroke="#111" stroke-width="1.1"/>
<text x="87.80" y="621.00" font-size="10.8" fill="#1a1a1a" text-anchor="end" font-weight="normal" stroke="#1a1a1a" stroke-width="0.22" >0</text>
<line x1="92.30" y1="598.44" x2="95.30" y2="598.44" stroke="#111" stroke-width="1.1"/>
<text x="87.80" y="602.34" font-size="10.8" fill="#1a1a1a" text-anchor="end" font-weight="normal" stroke="#1a1a1a" stroke-width="0.22" >0.1</text>
<line x1="92.30" y1="579.78" x2="95.30" y2="579.78" stroke="#111" stroke-width="1.1"/>
<text x="87.80" y="583.68" font-size="10.8" fill="#1a1a1a" text-anchor="end" font-weight="normal" stroke="#1a1a1a" stroke-width="0.22" >0.2</text>
<line x1="92.30" y1="561.12" x2="95.30" y2="561.12" stroke="#111" stroke-width="1.1"/>
<text x="87.80" y="565.02" font-size="10.8" fill="#1a1a1a" text-anchor="end" font-weight="normal" stroke="#1a1a1a" stroke-width="0.22" >0.3</text>
<line x1="92.30" y1="542.46" x2="95.30" y2="542.46" stroke="#111" stroke-width="1.1"/>
<text x="87.80" y="546.36" font-size="10.8" fill="#1a1a1a" text-anchor="end" font-weight="normal" stroke="#1a1a1a" stroke-width="0.22" >0.4</text>
<line x1="92.30" y1="523.80" x2="95.30" y2="523.80" stroke="#111" stroke-width="1.1"/>
<text x="87.80" y="527.70" font-size="10.8" fill="#1a1a1a" text-anchor="end" font-weight="normal" stroke="#1a1a1a" stroke-width="0.22" >0.5</text>
<line x1="92.30" y1="505.14" x2="95.30" y2="505.14" stroke="#111" stroke-width="1.1"/>
<text x="87.80" y="509.04" font-size="10.8" fill="#1a1a1a" text-anchor="end" font-weight="normal" stroke="#1a1a1a" stroke-width="0.22" >0.6</text>
<line x1="92.30" y1="486.48" x2="95.30" y2="486.48" stroke="#111" stroke-width="1.1"/>
<text x="87.80" y="490.38" font-size="10.8" fill="#1a1a1a" text-anchor="end" font-weight="normal" stroke="#1a1a1a" stroke-width="0.22" >0.7</text>
<line x1="92.30" y1="467.82" x2="95.30" y2="467.82" stroke="#111" stroke-width="1.1"/>
<text x="87.80" y="471.72" font-size="10.8" fill="#1a1a1a" text-anchor="end" font-weight="normal" stroke="#1a1a1a" stroke-width="0.22" >0.8</text>
<line x1="92.30" y1="449.16" x2="95.30" y2="449.16" stroke="#111" stroke-width="1.1"/>
<text x="87.80" y="453.06" font-size="10.8" fill="#1a1a1a" text-anchor="end" font-weight="normal" stroke="#1a1a1a" stroke-width="0.22" >0.9</text>
<line x1="92.30" y1="430.50" x2="95.30" y2="430.50" stroke="#111" stroke-width="1.1"/>
<text x="87.80" y="434.40" font-size="10.8" fill="#1a1a1a" text-anchor="end" font-weight="normal" stroke="#1a1a1a" stroke-width="0.22" >1</text>
<line x1="95.30" y1="617.10" x2="95.30" y2="620.30" stroke="#111" stroke-width="1.1"/>
<text x="95.30" y="633.30" font-size="10.8" fill="#1a1a1a" text-anchor="middle" font-weight="normal" stroke="#1a1a1a" stroke-width="0.22" >0</text>
<line x1="132.27" y1="617.10" x2="132.27" y2="620.30" stroke="#111" stroke-width="1.1"/>
<text x="132.27" y="633.30" font-size="10.8" fill="#1a1a1a" text-anchor="middle" font-weight="normal" stroke="#1a1a1a" stroke-width="0.22" >10</text>
<line x1="169.24" y1="617.10" x2="169.24" y2="620.30" stroke="#111" stroke-width="1.1"/>
<text x="169.24" y="633.30" font-size="10.8" fill="#1a1a1a" text-anchor="middle" font-weight="normal" stroke="#1a1a1a" stroke-width="0.22" >20</text>
<line x1="206.21" y1="617.10" x2="206.21" y2="620.30" stroke="#111" stroke-width="1.1"/>
<text x="206.21" y="633.30" font-size="10.8" fill="#1a1a1a" text-anchor="middle" font-weight="normal" stroke="#1a1a1a" stroke-width="0.22" >30</text>
<line x1="243.18" y1="617.10" x2="243.18" y2="620.30" stroke="#111" stroke-width="1.1"/>
<text x="243.18" y="633.30" font-size="10.8" fill="#1a1a1a" text-anchor="middle" font-weight="normal" stroke="#1a1a1a" stroke-width="0.22" >40</text>
<line x1="280.15" y1="617.10" x2="280.15" y2="620.30" stroke="#111" stroke-width="1.1"/>
<text x="280.15" y="633.30" font-size="10.8" fill="#1a1a1a" text-anchor="middle" font-weight="normal" stroke="#1a1a1a" stroke-width="0.22" >50</text>
<line x1="317.12" y1="617.10" x2="317.12" y2="620.30" stroke="#111" stroke-width="1.1"/>
<text x="317.12" y="633.30" font-size="10.8" fill="#1a1a1a" text-anchor="middle" font-weight="normal" stroke="#1a1a1a" stroke-width="0.22" >60</text>
<text x="206.40" y="649.20" font-size="11.3" fill="#1a1a1a" text-anchor="middle" font-weight="normal" stroke="#1a1a1a" stroke-width="0.22" >Concentration (µM)</text>
<text x="0" y="0" font-size="11.3" fill="#1a1a1a" stroke="#1a1a1a" stroke-width="0.22" text-anchor="middle" transform="translate(62.9,523.8) rotate(-90)">Normalised response</text>
<path d="M95.30,617.10 L95.96,613.12 L96.62,609.30 L97.28,605.64 L97.95,602.12 L98.61,598.74 L99.27,595.50 L99.93,592.37 L100.59,589.37 L101.25,586.47 L101.92,583.68 L102.58,580.98 L103.24,578.38 L103.90,575.86 L104.56,573.43 L105.22,571.09 L105.88,568.81 L106.55,566.61 L107.21,564.48 L107.87,562.41 L108.53,560.41 L109.19,558.46 L109.85,556.58 L110.51,554.74 L111.18,552.97 L111.84,551.24 L112.50,549.56 L113.16,547.92 L113.82,546.33 L114.48,544.78 L115.15,543.28 L115.81,541.81 L116.47,540.38 L117.13,538.98 L117.79,537.62 L118.45,536.30 L119.11,535.01 L119.78,533.74 L120.44,532.51 L121.10,531.31 L121.76,530.14 L122.42,528.99 L123.08,527.87 L123.74,526.77 L124.41,525.70 L125.07,524.65 L125.73,523.63 L126.39,522.62 L127.05,521.64 L127.71,520.68 L128.38,519.74 L129.04,518.82 L129.70,517.91 L130.36,517.03 L131.02,516.16 L131.68,515.31 L132.34,514.48 L133.01,513.66 L133.67,512.86 L134.33,512.08 L134.99,511.31 L135.65,510.55 L136.31,509.81 L136.97,509.08 L137.64,508.36 L138.30,507.66 L138.96,506.97 L139.62,506.29 L140.28,505.63 L140.94,504.97 L141.61,504.33 L142.27,503.70 L142.93,503.08 L143.59,502.47 L144.25,501.86 L144.91,501.27 L145.57,500.69 L146.24,500.12 L146.90,499.56 L147.56,499.01 L148.22,498.46 L148.88,497.93 L149.54,497.40 L150.20,496.88 L150.87,496.37 L151.53,495.86 L152.19,495.37 L152.85,494.88 L153.51,494.40 L154.17,493.93 L154.84,493.46 L155.50,493.00 L156.16,492.54 L156.82,492.10 L157.48,491.66 L158.14,491.22 L158.80,490.79 L159.47,490.37 L160.13,489.96 L160.79,489.55 L161.45,489.14 L162.11,488.74 L162.77,488.35 L163.43,487.96 L164.10,487.58 L164.76,487.20 L165.42,486.82 L166.08,486.46 L166.74,486.09 L167.40,485.73 L168.07,485.38 L168.73,485.03 L169.39,484.68 L170.05,484.34 L170.71,484.00 L171.37,483.67 L172.03,483.34 L172.70,483.02 L173.36,482.70 L174.02,482.38 L174.68,482.07 L175.34,481.76 L176.00,481.45 L176.66,481.15 L177.33,480.85 L177.99,480.56 L178.65,480.27 L179.31,479.98 L179.97,479.70 L180.63,479.41 L181.30,479.14 L181.96,478.86 L182.62,478.59 L183.28,478.32 L183.94,478.05 L184.60,477.79 L185.26,477.53 L185.93,477.27 L186.59,477.02 L187.25,476.77 L187.91,476.52 L188.57,476.27 L189.23,476.03 L189.89,475.79 L190.56,475.55 L191.22,475.31 L191.88,475.08 L192.54,474.85 L193.20,474.62 L193.86,474.39 L194.53,474.17 L195.19,473.95 L195.85,473.73 L196.51,473.51 L197.17,473.29 L197.83,473.08 L198.49,472.87 L199.16,472.66 L199.82,472.45 L200.48,472.25 L201.14,472.05 L201.80,471.85 L202.46,471.65 L203.13,471.45 L203.79,471.25 L204.45,471.06 L205.11,470.87 L205.77,470.68 L206.43,470.49 L207.09,470.31 L207.76,470.12 L208.42,469.94 L209.08,469.76 L209.74,469.58 L210.40,469.40 L211.06,469.22 L211.72,469.05 L212.39,468.88 L213.05,468.71 L213.71,468.54 L214.37,468.37 L215.03,468.20 L215.69,468.03 L216.36,467.87 L217.02,467.71 L217.68,467.55 L218.34,467.39 L219.00,467.23 L219.66,467.07 L220.32,466.92 L220.99,466.76 L221.65,466.61 L222.31,466.46 L222.97,466.31 L223.63,466.16 L224.29,466.01 L224.95,465.86 L225.62,465.72 L226.28,465.57 L226.94,465.43 L227.60,465.29 L228.26,465.15 L228.92,465.01 L229.59,464.87 L230.25,464.73 L230.91,464.59 L231.57,464.46 L232.23,464.32 L232.89,464.19 L233.55,464.06 L234.22,463.93 L234.88,463.80 L235.54,463.67 L236.20,463.54 L236.86,463.41 L237.52,463.29 L238.18,463.16 L238.85,463.04 L239.51,462.91 L240.17,462.79 L240.83,462.67 L241.49,462.55 L242.15,462.43 L242.82,462.31 L243.48,462.19 L244.14,462.08 L244.80,461.96 L245.46,461.84 L246.12,461.73 L246.78,461.62 L247.45,461.50 L248.11,461.39 L248.77,461.28 L249.43,461.17 L250.09,461.06 L250.75,460.95 L251.41,460.84 L252.08,460.74 L252.74,460.63 L253.40,460.52 L254.06,460.42 L254.72,460.31 L255.38,460.21 L256.05,460.11 L256.71,460.01 L257.37,459.90 L258.03,459.80 L258.69,459.70 L259.35,459.60 L260.01,459.51 L260.68,459.41 L261.34,459.31 L262.00,459.21 L262.66,459.12 L263.32,459.02 L263.98,458.93 L264.64,458.83 L265.31,458.74 L265.97,458.65 L266.63,458.55 L267.29,458.46 L267.95,458.37 L268.61,458.28 L269.28,458.19 L269.94,458.10 L270.60,458.01 L271.26,457.92 L271.92,457.84 L272.58,457.75 L273.24,457.66 L273.91,457.58 L274.57,457.49 L275.23,457.41 L275.89,457.32 L276.55,457.24 L277.21,457.15 L277.87,457.07 L278.54,456.99 L279.20,456.91 L279.86,456.83 L280.52,456.75 L281.18,456.67 L281.84,456.59 L282.51,456.51 L283.17,456.43 L283.83,456.35 L284.49,456.27 L285.15,456.19 L285.81,456.12 L286.47,456.04 L287.14,455.96 L287.80,455.89 L288.46,455.81 L289.12,455.74 L289.78,455.66 L290.44,455.59 L291.10,455.52 L291.77,455.44 L292.43,455.37 L293.09,455.30" fill="none" stroke="#000" stroke-width="2.8" stroke-linejoin="round"/>
<path d="M95.30,617.10 L95.96,614.47 L96.62,611.91 L97.28,609.42 L97.95,606.99 L98.61,604.64 L99.27,602.34 L99.93,600.11 L100.59,597.93 L101.25,595.80 L101.92,593.73 L102.58,591.72 L103.24,589.75 L103.90,587.82 L104.56,585.95 L105.22,584.12 L105.88,582.33 L106.55,580.58 L107.21,578.87 L107.87,577.20 L108.53,575.57 L109.19,573.97 L109.85,572.41 L110.51,570.88 L111.18,569.39 L111.84,567.92 L112.50,566.49 L113.16,565.08 L113.82,563.71 L114.48,562.36 L115.15,561.04 L115.81,559.75 L116.47,558.48 L117.13,557.23 L117.79,556.01 L118.45,554.82 L119.11,553.64 L119.78,552.49 L120.44,551.36 L121.10,550.25 L121.76,549.16 L122.42,548.09 L123.08,547.04 L123.74,546.00 L124.41,544.99 L125.07,543.99 L125.73,543.01 L126.39,542.05 L127.05,541.10 L127.71,540.17 L128.38,539.26 L129.04,538.36 L129.70,537.47 L130.36,536.60 L131.02,535.75 L131.68,534.90 L132.34,534.07 L133.01,533.26 L133.67,532.45 L134.33,531.66 L134.99,530.88 L135.65,530.12 L136.31,529.36 L136.97,528.62 L137.64,527.88 L138.30,527.16 L138.96,526.45 L139.62,525.75 L140.28,525.06 L140.94,524.38 L141.61,523.71 L142.27,523.04 L142.93,522.39 L143.59,521.75 L144.25,521.11 L144.91,520.49 L145.57,519.87 L146.24,519.26 L146.90,518.66 L147.56,518.07 L148.22,517.49 L148.88,516.91 L149.54,516.34 L150.20,515.78 L150.87,515.23 L151.53,514.68 L152.19,514.14 L152.85,513.61 L153.51,513.08 L154.17,512.56 L154.84,512.05 L155.50,511.54 L156.16,511.04 L156.82,510.54 L157.48,510.05 L158.14,509.57 L158.80,509.10 L159.47,508.62 L160.13,508.16 L160.79,507.70 L161.45,507.24 L162.11,506.80 L162.77,506.35 L163.43,505.91 L164.10,505.48 L164.76,505.05 L165.42,504.63 L166.08,504.21 L166.74,503.79 L167.40,503.38 L168.07,502.98 L168.73,502.58 L169.39,502.18 L170.05,501.79 L170.71,501.40 L171.37,501.02 L172.03,500.64 L172.70,500.26 L173.36,499.89 L174.02,499.52 L174.68,499.16 L175.34,498.80 L176.00,498.44 L176.66,498.09 L177.33,497.74 L177.99,497.40 L178.65,497.06 L179.31,496.72 L179.97,496.38 L180.63,496.05 L181.30,495.72 L181.96,495.40 L182.62,495.08 L183.28,494.76 L183.94,494.45 L184.60,494.13 L185.26,493.82 L185.93,493.52 L186.59,493.21 L187.25,492.91 L187.91,492.62 L188.57,492.32 L189.23,492.03 L189.89,491.74 L190.56,491.46 L191.22,491.17 L191.88,490.89 L192.54,490.61 L193.20,490.34 L193.86,490.06 L194.53,489.79 L195.19,489.52 L195.85,489.26 L196.51,488.99 L197.17,488.73 L197.83,488.47 L198.49,488.22 L199.16,487.96 L199.82,487.71 L200.48,487.46 L201.14,487.21 L201.80,486.97 L202.46,486.72 L203.13,486.48 L203.79,486.24 L204.45,486.00 L205.11,485.77 L205.77,485.54 L206.43,485.30 L207.09,485.08 L207.76,484.85 L208.42,484.62 L209.08,484.40 L209.74,484.18 L210.40,483.96 L211.06,483.74 L211.72,483.52 L212.39,483.31 L213.05,483.09 L213.71,482.88 L214.37,482.67 L215.03,482.46 L215.69,482.26 L216.36,482.05 L217.02,481.85 L217.68,481.65 L218.34,481.45 L219.00,481.25 L219.66,481.05 L220.32,480.86 L220.99,480.66 L221.65,480.47 L222.31,480.28 L222.97,480.09 L223.63,479.90 L224.29,479.72 L224.95,479.53 L225.62,479.35 L226.28,479.17 L226.94,478.99 L227.60,478.81 L228.26,478.63 L228.92,478.45 L229.59,478.27 L230.25,478.10 L230.91,477.93 L231.57,477.76 L232.23,477.58 L232.89,477.42 L233.55,477.25 L234.22,477.08 L234.88,476.91 L235.54,476.75 L236.20,476.59 L236.86,476.42 L237.52,476.26 L238.18,476.10 L238.85,475.94 L239.51,475.79 L240.17,475.63 L240.83,475.47 L241.49,475.32 L242.15,475.16 L242.82,475.01 L243.48,474.86 L244.14,474.71 L244.80,474.56 L245.46,474.41 L246.12,474.27 L246.78,474.12 L247.45,473.97 L248.11,473.83 L248.77,473.69 L249.43,473.54 L250.09,473.40 L250.75,473.26 L251.41,473.12 L252.08,472.98 L252.74,472.84 L253.40,472.71 L254.06,472.57 L254.72,472.43 L255.38,472.30 L256.05,472.17 L256.71,472.03 L257.37,471.90 L258.03,471.77 L258.69,471.64 L259.35,471.51 L260.01,471.38 L260.68,471.25 L261.34,471.13 L262.00,471.00 L262.66,470.88 L263.32,470.75 L263.98,470.63 L264.64,470.50 L265.31,470.38 L265.97,470.26 L266.63,470.14 L267.29,470.02 L267.95,469.90 L268.61,469.78 L269.28,469.66 L269.94,469.55 L270.60,469.43 L271.26,469.31 L271.92,469.20 L272.58,469.08 L273.24,468.97 L273.91,468.86 L274.57,468.74 L275.23,468.63 L275.89,468.52 L276.55,468.41 L277.21,468.30 L277.87,468.19 L278.54,468.08 L279.20,467.97 L279.86,467.87 L280.52,467.76 L281.18,467.65 L281.84,467.55 L282.51,467.44 L283.17,467.34 L283.83,467.24 L284.49,467.13 L285.15,467.03 L285.81,466.93 L286.47,466.83 L287.14,466.72 L287.80,466.62 L288.46,466.52 L289.12,466.43 L289.78,466.33 L290.44,466.23 L291.10,466.13 L291.77,466.03 L292.43,465.94 L293.09,465.84" fill="none" stroke="#000" stroke-width="2.8" stroke-linejoin="round"/>
<path d="M95.30,617.10 L95.96,615.05 L96.62,613.04 L97.28,611.08 L97.95,609.16 L98.61,607.28 L99.27,605.44 L99.93,603.63 L100.59,601.86 L101.25,600.13 L101.92,598.44 L102.58,596.77 L103.24,595.14 L103.90,593.54 L104.56,591.98 L105.22,590.44 L105.88,588.93 L106.55,587.45 L107.21,585.99 L107.87,584.57 L108.53,583.17 L109.19,581.79 L109.85,580.44 L110.51,579.11 L111.18,577.81 L111.84,576.53 L112.50,575.27 L113.16,574.03 L113.82,572.81 L114.48,571.62 L115.15,570.44 L115.81,569.29 L116.47,568.15 L117.13,567.03 L117.79,565.93 L118.45,564.84 L119.11,563.78 L119.78,562.73 L120.44,561.69 L121.10,560.68 L121.76,559.68 L122.42,558.69 L123.08,557.72 L123.74,556.76 L124.41,555.82 L125.07,554.89 L125.73,553.98 L126.39,553.07 L127.05,552.19 L127.71,551.31 L128.38,550.45 L129.04,549.60 L129.70,548.76 L130.36,547.93 L131.02,547.12 L131.68,546.31 L132.34,545.52 L133.01,544.73 L133.67,543.96 L134.33,543.20 L134.99,542.45 L135.65,541.71 L136.31,540.98 L136.97,540.25 L137.64,539.54 L138.30,538.84 L138.96,538.14 L139.62,537.46 L140.28,536.78 L140.94,536.11 L141.61,535.45 L142.27,534.80 L142.93,534.16 L143.59,533.52 L144.25,532.89 L144.91,532.27 L145.57,531.66 L146.24,531.05 L146.90,530.45 L147.56,529.86 L148.22,529.28 L148.88,528.70 L149.54,528.13 L150.20,527.56 L150.87,527.01 L151.53,526.46 L152.19,525.91 L152.85,525.37 L153.51,524.84 L154.17,524.31 L154.84,523.79 L155.50,523.27 L156.16,522.76 L156.82,522.26 L157.48,521.76 L158.14,521.27 L158.80,520.78 L159.47,520.30 L160.13,519.82 L160.79,519.35 L161.45,518.88 L162.11,518.42 L162.77,517.96 L163.43,517.50 L164.10,517.06 L164.76,516.61 L165.42,516.17 L166.08,515.74 L166.74,515.31 L167.40,514.88 L168.07,514.46 L168.73,514.04 L169.39,513.63 L170.05,513.22 L170.71,512.81 L171.37,512.41 L172.03,512.01 L172.70,511.62 L173.36,511.23 L174.02,510.84 L174.68,510.46 L175.34,510.08 L176.00,509.71 L176.66,509.33 L177.33,508.97 L177.99,508.60 L178.65,508.24 L179.31,507.88 L179.97,507.53 L180.63,507.17 L181.30,506.83 L181.96,506.48 L182.62,506.14 L183.28,505.80 L183.94,505.46 L184.60,505.13 L185.26,504.80 L185.93,504.47 L186.59,504.15 L187.25,503.83 L187.91,503.51 L188.57,503.19 L189.23,502.88 L189.89,502.57 L190.56,502.26 L191.22,501.95 L191.88,501.65 L192.54,501.35 L193.20,501.05 L193.86,500.76 L194.53,500.47 L195.19,500.17 L195.85,499.89 L196.51,499.60 L197.17,499.32 L197.83,499.04 L198.49,498.76 L199.16,498.48 L199.82,498.21 L200.48,497.94 L201.14,497.67 L201.80,497.40 L202.46,497.13 L203.13,496.87 L203.79,496.61 L204.45,496.35 L205.11,496.09 L205.77,495.84 L206.43,495.58 L207.09,495.33 L207.76,495.08 L208.42,494.84 L209.08,494.59 L209.74,494.35 L210.40,494.10 L211.06,493.86 L211.72,493.63 L212.39,493.39 L213.05,493.15 L213.71,492.92 L214.37,492.69 L215.03,492.46 L215.69,492.23 L216.36,492.01 L217.02,491.78 L217.68,491.56 L218.34,491.34 L219.00,491.12 L219.66,490.90 L220.32,490.68 L220.99,490.47 L221.65,490.26 L222.31,490.04 L222.97,489.83 L223.63,489.62 L224.29,489.42 L224.95,489.21 L225.62,489.01 L226.28,488.80 L226.94,488.60 L227.60,488.40 L228.26,488.20 L228.92,488.00 L229.59,487.81 L230.25,487.61 L230.91,487.42 L231.57,487.23 L232.23,487.04 L232.89,486.85 L233.55,486.66 L234.22,486.47 L234.88,486.29 L235.54,486.10 L236.20,485.92 L236.86,485.73 L237.52,485.55 L238.18,485.37 L238.85,485.19 L239.51,485.02 L240.17,484.84 L240.83,484.67 L241.49,484.49 L242.15,484.32 L242.82,484.15 L243.48,483.98 L244.14,483.81 L244.80,483.64 L245.46,483.47 L246.12,483.30 L246.78,483.14 L247.45,482.97 L248.11,482.81 L248.77,482.65 L249.43,482.49 L250.09,482.32 L250.75,482.17 L251.41,482.01 L252.08,481.85 L252.74,481.69 L253.40,481.54 L254.06,481.38 L254.72,481.23 L255.38,481.08 L256.05,480.92 L256.71,480.77 L257.37,480.62 L258.03,480.47 L258.69,480.33 L259.35,480.18 L260.01,480.03 L260.68,479.89 L261.34,479.74 L262.00,479.60 L262.66,479.45 L263.32,479.31 L263.98,479.17 L264.64,479.03 L265.31,478.89 L265.97,478.75 L266.63,478.61 L267.29,478.47 L267.95,478.34 L268.61,478.20 L269.28,478.07 L269.94,477.93 L270.60,477.80 L271.26,477.67 L271.92,477.53 L272.58,477.40 L273.24,477.27 L273.91,477.14 L274.57,477.01 L275.23,476.88 L275.89,476.76 L276.55,476.63 L277.21,476.50 L277.87,476.38 L278.54,476.25 L279.20,476.13 L279.86,476.00 L280.52,475.88 L281.18,475.76 L281.84,475.64 L282.51,475.52 L283.17,475.40 L283.83,475.28 L284.49,475.16 L285.15,475.04 L285.81,474.92 L286.47,474.80 L287.14,474.69 L287.80,474.57 L288.46,474.46 L289.12,474.34 L289.78,474.23 L290.44,474.11 L291.10,474.00 L291.77,473.89 L292.43,473.78 L293.09,473.66" fill="none" stroke="#000" stroke-width="2.8" stroke-linejoin="round"/>
<path d="M95.30,617.10 L95.96,615.78 L96.62,614.49 L97.28,613.21 L97.95,611.95 L98.61,610.70 L99.27,609.48 L99.93,608.26 L100.59,607.07 L101.25,605.89 L101.92,604.73 L102.58,603.58 L103.24,602.45 L103.90,601.33 L104.56,600.23 L105.22,599.14 L105.88,598.06 L106.55,597.00 L107.21,595.95 L107.87,594.92 L108.53,593.90 L109.19,592.89 L109.85,591.89 L110.51,590.90 L111.18,589.93 L111.84,588.97 L112.50,588.02 L113.16,587.08 L113.82,586.15 L114.48,585.24 L115.15,584.33 L115.81,583.44 L116.47,582.55 L117.13,581.68 L117.79,580.81 L118.45,579.96 L119.11,579.11 L119.78,578.28 L120.44,577.45 L121.10,576.63 L121.76,575.83 L122.42,575.03 L123.08,574.24 L123.74,573.45 L124.41,572.68 L125.07,571.92 L125.73,571.16 L126.39,570.41 L127.05,569.67 L127.71,568.94 L128.38,568.21 L129.04,567.49 L129.70,566.78 L130.36,566.08 L131.02,565.38 L131.68,564.69 L132.34,564.01 L133.01,563.34 L133.67,562.67 L134.33,562.01 L134.99,561.35 L135.65,560.71 L136.31,560.06 L136.97,559.43 L137.64,558.80 L138.30,558.17 L138.96,557.56 L139.62,556.95 L140.28,556.34 L140.94,555.74 L141.61,555.15 L142.27,554.56 L142.93,553.98 L143.59,553.40 L144.25,552.83 L144.91,552.26 L145.57,551.70 L146.24,551.14 L146.90,550.59 L147.56,550.04 L148.22,549.50 L148.88,548.97 L149.54,548.43 L150.20,547.91 L150.87,547.39 L151.53,546.87 L152.19,546.36 L152.85,545.85 L153.51,545.34 L154.17,544.84 L154.84,544.35 L155.50,543.86 L156.16,543.37 L156.82,542.89 L157.48,542.41 L158.14,541.93 L158.80,541.46 L159.47,541.00 L160.13,540.53 L160.79,540.08 L161.45,539.62 L162.11,539.17 L162.77,538.72 L163.43,538.28 L164.10,537.84 L164.76,537.40 L165.42,536.97 L166.08,536.54 L166.74,536.11 L167.40,535.69 L168.07,535.27 L168.73,534.85 L169.39,534.44 L170.05,534.03 L170.71,533.63 L171.37,533.22 L172.03,532.82 L172.70,532.43 L173.36,532.03 L174.02,531.64 L174.68,531.25 L175.34,530.87 L176.00,530.49 L176.66,530.11 L177.33,529.73 L177.99,529.36 L178.65,528.99 L179.31,528.62 L179.97,528.26 L180.63,527.89 L181.30,527.53 L181.96,527.18 L182.62,526.82 L183.28,526.47 L183.94,526.12 L184.60,525.77 L185.26,525.43 L185.93,525.09 L186.59,524.75 L187.25,524.41 L187.91,524.08 L188.57,523.75 L189.23,523.42 L189.89,523.09 L190.56,522.76 L191.22,522.44 L191.88,522.12 L192.54,521.80 L193.20,521.49 L193.86,521.17 L194.53,520.86 L195.19,520.55 L195.85,520.24 L196.51,519.94 L197.17,519.63 L197.83,519.33 L198.49,519.03 L199.16,518.74 L199.82,518.44 L200.48,518.15 L201.14,517.86 L201.80,517.57 L202.46,517.28 L203.13,516.99 L203.79,516.71 L204.45,516.43 L205.11,516.15 L205.77,515.87 L206.43,515.59 L207.09,515.32 L207.76,515.05 L208.42,514.78 L209.08,514.51 L209.74,514.24 L210.40,513.97 L211.06,513.71 L211.72,513.45 L212.39,513.18 L213.05,512.93 L213.71,512.67 L214.37,512.41 L215.03,512.16 L215.69,511.90 L216.36,511.65 L217.02,511.40 L217.68,511.15 L218.34,510.91 L219.00,510.66 L219.66,510.42 L220.32,510.18 L220.99,509.94 L221.65,509.70 L222.31,509.46 L222.97,509.22 L223.63,508.99 L224.29,508.75 L224.95,508.52 L225.62,508.29 L226.28,508.06 L226.94,507.83 L227.60,507.60 L228.26,507.38 L228.92,507.16 L229.59,506.93 L230.25,506.71 L230.91,506.49 L231.57,506.27 L232.23,506.05 L232.89,505.84 L233.55,505.62 L234.22,505.41 L234.88,505.19 L235.54,504.98 L236.20,504.77 L236.86,504.56 L237.52,504.35 L238.18,504.15 L238.85,503.94 L239.51,503.74 L240.17,503.53 L240.83,503.33 L241.49,503.13 L242.15,502.93 L242.82,502.73 L243.48,502.53 L244.14,502.34 L244.80,502.14 L245.46,501.95 L246.12,501.75 L246.78,501.56 L247.45,501.37 L248.11,501.18 L248.77,500.99 L249.43,500.80 L250.09,500.61 L250.75,500.42 L251.41,500.24 L252.08,500.05 L252.74,499.87 L253.40,499.69 L254.06,499.51 L254.72,499.33 L255.38,499.15 L256.05,498.97 L256.71,498.79 L257.37,498.61 L258.03,498.44 L258.69,498.26 L259.35,498.09 L260.01,497.91 L260.68,497.74 L261.34,497.57 L262.00,497.40 L262.66,497.23 L263.32,497.06 L263.98,496.89 L264.64,496.72 L265.31,496.56 L265.97,496.39 L266.63,496.23 L267.29,496.06 L267.95,495.90 L268.61,495.74 L269.28,495.58 L269.94,495.42 L270.60,495.26 L271.26,495.10 L271.92,494.94 L272.58,494.78 L273.24,494.62 L273.91,494.47 L274.57,494.31 L275.23,494.16 L275.89,494.00 L276.55,493.85 L277.21,493.70 L277.87,493.55 L278.54,493.40 L279.20,493.25 L279.86,493.10 L280.52,492.95 L281.18,492.80 L281.84,492.65 L282.51,492.51 L283.17,492.36 L283.83,492.21 L284.49,492.07 L285.15,491.93 L285.81,491.78 L286.47,491.64 L287.14,491.50 L287.80,491.36 L288.46,491.22 L289.12,491.08 L289.78,490.94 L290.44,490.80 L291.10,490.66 L291.77,490.52 L292.43,490.39 L293.09,490.25" fill="none" stroke="#000" stroke-width="3.4" stroke-linejoin="round"/>
<path d="M95.30,617.10 L95.96,615.72 L96.62,614.37 L97.28,613.03 L97.95,611.72 L98.61,610.42 L99.27,609.14 L99.93,607.88 L100.59,606.64 L101.25,605.41 L101.92,604.20 L102.58,603.01 L103.24,601.84 L103.90,600.68 L104.56,599.53 L105.22,598.40 L105.88,597.29 L106.55,596.19 L107.21,595.10 L107.87,594.03 L108.53,592.97 L109.19,591.93 L109.85,590.90 L110.51,589.88 L111.18,588.88 L111.84,587.89 L112.50,586.91 L113.16,585.94 L113.82,584.98 L114.48,584.04 L115.15,583.11 L115.81,582.19 L116.47,581.28 L117.13,580.38 L117.79,579.49 L118.45,578.61 L119.11,577.74 L119.78,576.89 L120.44,576.04 L121.10,575.20 L121.76,574.37 L122.42,573.55 L123.08,572.74 L123.74,571.94 L124.41,571.15 L125.07,570.37 L125.73,569.60 L126.39,568.83 L127.05,568.07 L127.71,567.32 L128.38,566.58 L129.04,565.85 L129.70,565.12 L130.36,564.41 L131.02,563.70 L131.68,563.00 L132.34,562.30 L133.01,561.61 L133.67,560.93 L134.33,560.26 L134.99,559.59 L135.65,558.93 L136.31,558.28 L136.97,557.63 L137.64,556.99 L138.30,556.36 L138.96,555.73 L139.62,555.11 L140.28,554.50 L140.94,553.89 L141.61,553.29 L142.27,552.69 L142.93,552.10 L143.59,551.51 L144.25,550.93 L144.91,550.36 L145.57,549.79 L146.24,549.23 L146.90,548.67 L147.56,548.11 L148.22,547.57 L148.88,547.02 L149.54,546.49 L150.20,545.95 L150.87,545.43 L151.53,544.90 L152.19,544.38 L152.85,543.87 L153.51,543.36 L154.17,542.86 L154.84,542.36 L155.50,541.86 L156.16,541.37 L156.82,540.88 L157.48,540.40 L158.14,539.92 L158.80,539.45 L159.47,538.98 L160.13,538.51 L160.79,538.05 L161.45,537.59 L162.11,537.14 L162.77,536.69 L163.43,536.24 L164.10,535.80 L164.76,535.36 L165.42,534.92 L166.08,534.49 L166.74,534.06 L167.40,533.64 L168.07,533.21 L168.73,532.80 L169.39,532.38 L170.05,531.97 L170.71,531.56 L171.37,531.16 L172.03,530.76 L172.70,530.36 L173.36,529.96 L174.02,529.57 L174.68,529.18 L175.34,528.80 L176.00,528.41 L176.66,528.03 L177.33,527.66 L177.99,527.28 L178.65,526.91 L179.31,526.54 L179.97,526.18 L180.63,525.81 L181.30,525.45 L181.96,525.10 L182.62,524.74 L183.28,524.39 L183.94,524.04 L184.60,523.69 L185.26,523.35 L185.93,523.01 L186.59,522.67 L187.25,522.33 L187.91,522.00 L188.57,521.66 L189.23,521.33 L189.89,521.01 L190.56,520.68 L191.22,520.36 L191.88,520.04 L192.54,519.72 L193.20,519.41 L193.86,519.09 L194.53,518.78 L195.19,518.47 L195.85,518.17 L196.51,517.86 L197.17,517.56 L197.83,517.26 L198.49,516.96 L199.16,516.66 L199.82,516.37 L200.48,516.08 L201.14,515.79 L201.80,515.50 L202.46,515.21 L203.13,514.93 L203.79,514.64 L204.45,514.36 L205.11,514.08 L205.77,513.81 L206.43,513.53 L207.09,513.26 L207.76,512.99 L208.42,512.72 L209.08,512.45 L209.74,512.18 L210.40,511.92 L211.06,511.66 L211.72,511.39 L212.39,511.14 L213.05,510.88 L213.71,510.62 L214.37,510.37 L215.03,510.11 L215.69,509.86 L216.36,509.61 L217.02,509.36 L217.68,509.12 L218.34,508.87 L219.00,508.63 L219.66,508.39 L220.32,508.15 L220.99,507.91 L221.65,507.67 L222.31,507.43 L222.97,507.20 L223.63,506.96 L224.29,506.73 L224.95,506.50 L225.62,506.27 L226.28,506.05 L226.94,505.82 L227.60,505.59 L228.26,505.37 L228.92,505.15 L229.59,504.93 L230.25,504.71 L230.91,504.49 L231.57,504.27 L232.23,504.06 L232.89,503.84 L233.55,503.63 L234.22,503.42 L234.88,503.20 L235.54,502.99 L236.20,502.79 L236.86,502.58 L237.52,502.37 L238.18,502.17 L238.85,501.96 L239.51,501.76 L240.17,501.56 L240.83,501.36 L241.49,501.16 L242.15,500.96 L242.82,500.77 L243.48,500.57 L244.14,500.37 L244.80,500.18 L245.46,499.99 L246.12,499.80 L246.78,499.61 L247.45,499.42 L248.11,499.23 L248.77,499.04 L249.43,498.85 L250.09,498.67 L250.75,498.48 L251.41,498.30 L252.08,498.12 L252.74,497.94 L253.40,497.76 L254.06,497.58 L254.72,497.40 L255.38,497.22 L256.05,497.04 L256.71,496.87 L257.37,496.69 L258.03,496.52 L258.69,496.35 L259.35,496.17 L260.01,496.00 L260.68,495.83 L261.34,495.66 L262.00,495.50 L262.66,495.33 L263.32,495.16 L263.98,495.00 L264.64,494.83 L265.31,494.67 L265.97,494.50 L266.63,494.34 L267.29,494.18 L267.95,494.02 L268.61,493.86 L269.28,493.70 L269.94,493.54 L270.60,493.38 L271.26,493.22 L271.92,493.07 L272.58,492.91 L273.24,492.76 L273.91,492.60 L274.57,492.45 L275.23,492.30 L275.89,492.15 L276.55,492.00 L277.21,491.85 L277.87,491.70 L278.54,491.55 L279.20,491.40 L279.86,491.25 L280.52,491.11 L281.18,490.96 L281.84,490.82 L282.51,490.67 L283.17,490.53 L283.83,490.38 L284.49,490.24 L285.15,490.10 L285.81,489.96 L286.47,489.82 L287.14,489.68 L287.80,489.54 L288.46,489.40 L289.12,489.26 L289.78,489.13 L290.44,488.99 L291.10,488.86 L291.77,488.72 L292.43,488.59 L293.09,488.45" fill="none" stroke="#000" stroke-width="3.4" stroke-linejoin="round"/>
<circle cx="117.80" cy="577.50" r="3.4" fill="#ef8a3a" stroke="#141414" stroke-width="1.1"/>
<circle cx="117.80" cy="589.80" r="3.4" fill="#ef8a3a" stroke="#141414" stroke-width="1.1"/>
<circle cx="141.80" cy="551.10" r="3.4" fill="#ef8a3a" stroke="#141414" stroke-width="1.1"/>
<circle cx="164.80" cy="535.50" r="3.4" fill="#ef8a3a" stroke="#141414" stroke-width="1.1"/>
<circle cx="164.80" cy="542.60" r="3.4" fill="#ef8a3a" stroke="#141414" stroke-width="1.1"/>
<circle cx="211.40" cy="503.10" r="3.4" fill="#ef8a3a" stroke="#141414" stroke-width="1.1"/>
<circle cx="211.40" cy="513.60" r="3.4" fill="#ef8a3a" stroke="#141414" stroke-width="1.1"/>
<circle cx="257.70" cy="494.60" r="3.4" fill="#ef8a3a" stroke="#141414" stroke-width="1.1"/>
<circle cx="257.70" cy="502.20" r="3.4" fill="#ef8a3a" stroke="#141414" stroke-width="1.1"/>
<circle cx="293.00" cy="484.50" r="3.4" fill="#ef8a3a" stroke="#141414" stroke-width="1.1"/>
<circle cx="293.00" cy="491.40" r="3.4" fill="#ef8a3a" stroke="#141414" stroke-width="1.1"/>
<circle cx="108.50" cy="589.80" r="3.4" fill="#98d47e" stroke="#141414" stroke-width="1.1"/>
<circle cx="108.50" cy="596.10" r="3.4" fill="#98d47e" stroke="#141414" stroke-width="1.1"/>
<circle cx="121.90" cy="572.80" r="3.4" fill="#98d47e" stroke="#141414" stroke-width="1.1"/>
<circle cx="137.90" cy="564.60" r="3.4" fill="#98d47e" stroke="#141414" stroke-width="1.1"/>
<circle cx="147.40" cy="545.70" r="3.4" fill="#98d47e" stroke="#141414" stroke-width="1.1"/>
<circle cx="172.20" cy="530.70" r="3.4" fill="#98d47e" stroke="#141414" stroke-width="1.1"/>
<circle cx="179.00" cy="533.80" r="3.4" fill="#98d47e" stroke="#141414" stroke-width="1.1"/>
<circle cx="196.00" cy="516.60" r="3.4" fill="#98d47e" stroke="#141414" stroke-width="1.1"/>
<circle cx="218.40" cy="505.00" r="3.4" fill="#98d47e" stroke="#141414" stroke-width="1.1"/>
<circle cx="256.40" cy="501.60" r="3.4" fill="#98d47e" stroke="#141414" stroke-width="1.1"/>
<circle cx="287.30" cy="491.80" r="3.4" fill="#98d47e" stroke="#141414" stroke-width="1.1"/>
<circle cx="108.90" cy="576.00" r="3.4" fill="#f8c31c" stroke="#141414" stroke-width="1.1"/>
<circle cx="114.70" cy="566.80" r="3.4" fill="#f8c31c" stroke="#141414" stroke-width="1.1"/>
<circle cx="121.40" cy="547.80" r="3.4" fill="#f8c31c" stroke="#141414" stroke-width="1.1"/>
<circle cx="123.00" cy="544.20" r="3.4" fill="#f8c31c" stroke="#141414" stroke-width="1.1"/>
<circle cx="133.40" cy="543.80" r="3.4" fill="#f8c31c" stroke="#141414" stroke-width="1.1"/>
<circle cx="134.60" cy="533.90" r="3.4" fill="#f8c31c" stroke="#141414" stroke-width="1.1"/>
<circle cx="146.80" cy="523.90" r="3.4" fill="#f8c31c" stroke="#141414" stroke-width="1.1"/>
<circle cx="150.10" cy="517.00" r="3.4" fill="#f8c31c" stroke="#141414" stroke-width="1.1"/>
<circle cx="151.70" cy="509.70" r="3.4" fill="#f8c31c" stroke="#141414" stroke-width="1.1"/>
<circle cx="169.00" cy="503.90" r="3.4" fill="#f8c31c" stroke="#141414" stroke-width="1.1"/>
<circle cx="175.80" cy="497.50" r="3.4" fill="#f8c31c" stroke="#141414" stroke-width="1.1"/>
<circle cx="200.70" cy="492.70" r="3.4" fill="#f8c31c" stroke="#141414" stroke-width="1.1"/>
<circle cx="224.10" cy="476.60" r="3.4" fill="#f8c31c" stroke="#141414" stroke-width="1.1"/>
<circle cx="242.50" cy="474.30" r="3.4" fill="#f8c31c" stroke="#141414" stroke-width="1.1"/>
<circle cx="112.40" cy="584.10" r="3.4" fill="#b2b2b2" stroke="#141414" stroke-width="1.1"/>
<circle cx="118.00" cy="553.00" r="3.4" fill="#b2b2b2" stroke="#141414" stroke-width="1.1"/>
<circle cx="125.90" cy="552.50" r="3.4" fill="#b2b2b2" stroke="#141414" stroke-width="1.1"/>
<circle cx="136.20" cy="539.10" r="3.4" fill="#b2b2b2" stroke="#141414" stroke-width="1.1"/>
<circle cx="136.20" cy="529.40" r="3.4" fill="#b2b2b2" stroke="#141414" stroke-width="1.1"/>
<circle cx="156.00" cy="525.50" r="3.4" fill="#b2b2b2" stroke="#141414" stroke-width="1.1"/>
<circle cx="156.00" cy="533.00" r="3.4" fill="#b2b2b2" stroke="#141414" stroke-width="1.1"/>
<circle cx="174.40" cy="512.00" r="3.4" fill="#b2b2b2" stroke="#141414" stroke-width="1.1"/>
<circle cx="174.40" cy="517.50" r="3.4" fill="#b2b2b2" stroke="#141414" stroke-width="1.1"/>
<circle cx="177.60" cy="505.10" r="3.4" fill="#b2b2b2" stroke="#141414" stroke-width="1.1"/>
<circle cx="191.90" cy="497.70" r="3.4" fill="#b2b2b2" stroke="#141414" stroke-width="1.1"/>
<circle cx="191.90" cy="508.00" r="3.4" fill="#b2b2b2" stroke="#141414" stroke-width="1.1"/>
<circle cx="216.50" cy="488.90" r="3.4" fill="#b2b2b2" stroke="#141414" stroke-width="1.1"/>
<circle cx="253.50" cy="475.60" r="3.4" fill="#b2b2b2" stroke="#141414" stroke-width="1.1"/>
<circle cx="289.60" cy="473.70" r="3.4" fill="#b2b2b2" stroke="#141414" stroke-width="1.1"/>
<circle cx="102.40" cy="579.60" r="3.4" fill="#5a98d8" stroke="#141414" stroke-width="1.1"/>
<circle cx="104.60" cy="568.60" r="3.4" fill="#5a98d8" stroke="#141414" stroke-width="1.1"/>
<circle cx="108.70" cy="570.60" r="3.4" fill="#5a98d8" stroke="#141414" stroke-width="1.1"/>
<circle cx="110.00" cy="546.80" r="3.4" fill="#5a98d8" stroke="#141414" stroke-width="1.1"/>
<circle cx="115.00" cy="540.00" r="3.4" fill="#5a98d8" stroke="#141414" stroke-width="1.1"/>
<circle cx="121.90" cy="533.40" r="3.4" fill="#5a98d8" stroke="#141414" stroke-width="1.1"/>
<circle cx="131.20" cy="518.60" r="3.4" fill="#5a98d8" stroke="#141414" stroke-width="1.1"/>
<circle cx="143.00" cy="499.80" r="3.4" fill="#5a98d8" stroke="#141414" stroke-width="1.1"/>
<circle cx="165.10" cy="493.40" r="3.4" fill="#5a98d8" stroke="#141414" stroke-width="1.1"/>
<circle cx="186.70" cy="477.80" r="3.4" fill="#5a98d8" stroke="#141414" stroke-width="1.1"/>
<circle cx="186.90" cy="482.30" r="3.4" fill="#5a98d8" stroke="#141414" stroke-width="1.1"/>
<circle cx="207.60" cy="460.40" r="3.4" fill="#5a98d8" stroke="#141414" stroke-width="1.1"/>
<circle cx="207.60" cy="471.80" r="3.4" fill="#5a98d8" stroke="#141414" stroke-width="1.1"/>
<circle cx="238.70" cy="457.60" r="3.4" fill="#5a98d8" stroke="#141414" stroke-width="1.1"/>
<circle cx="264.00" cy="464.80" r="3.4" fill="#5a98d8" stroke="#141414" stroke-width="1.1"/>
<circle cx="312.4" cy="515.50" r="4.05" fill="#ffe400" stroke="#1a1a1a" stroke-width="1.1"/>
<text x="322.40" y="519.00" font-size="9.85" fill="#1a1a1a" text-anchor="start" font-weight="normal" stroke="#1a1a1a" stroke-width="0.22" >NS1-FL (W187A), 12.5 ± 3.2 µM</text>
<circle cx="312.4" cy="535.30" r="4.05" fill="#7cc04a" stroke="#1a1a1a" stroke-width="1.1"/>
<text x="322.40" y="538.80" font-size="9.85" fill="#1a1a1a" text-anchor="start" font-weight="normal" stroke="#1a1a1a" stroke-width="0.22" >NS1-FL (R38A/K41A), 25.2 ± 5.3 µM</text>
<circle cx="312.4" cy="555.10" r="4.05" fill="#1e76c6" stroke="#1a1a1a" stroke-width="1.1"/>
<text x="322.40" y="558.60" font-size="9.85" fill="#1a1a1a" text-anchor="start" font-weight="normal" stroke="#1a1a1a" stroke-width="0.22" >NS1-FL (R38A/K41A/W187A), 8.2 ± 1.9 µM</text>
<circle cx="312.4" cy="574.90" r="4.05" fill="#a8a8a8" stroke="#1a1a1a" stroke-width="1.1"/>
<text x="322.40" y="578.40" font-size="9.85" fill="#1a1a1a" text-anchor="start" font-weight="normal" stroke="#1a1a1a" stroke-width="0.22" >NS1-ED WT, 16.1 ± 4.2 µM</text>
<circle cx="312.4" cy="594.70" r="4.05" fill="#f7941d" stroke="#1a1a1a" stroke-width="1.1"/>
<text x="322.40" y="598.20" font-size="9.85" fill="#1a1a1a" text-anchor="start" font-weight="normal" stroke="#1a1a1a" stroke-width="0.22" >NS1-ED R140A, 24.1 ± 5.5 µM</text>
</svg></body></html>
